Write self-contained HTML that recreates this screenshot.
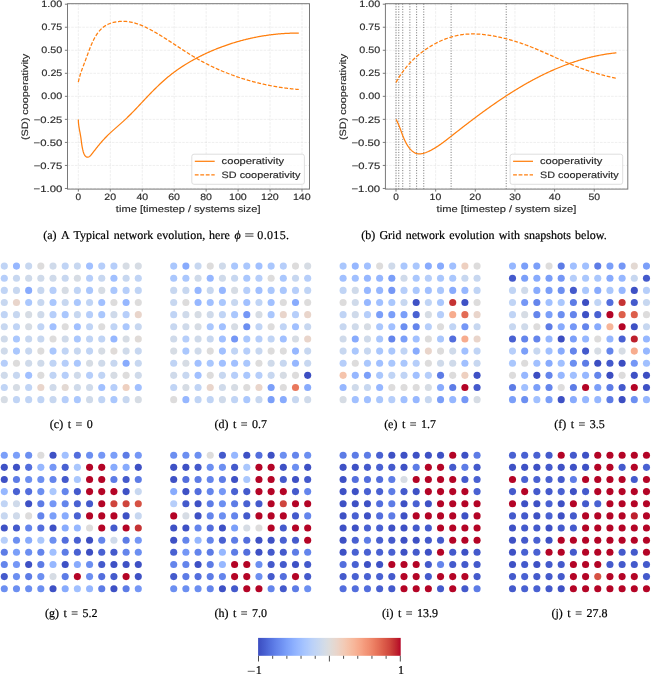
<!DOCTYPE html>
<html><head><meta charset="utf-8"><title>Figure</title>
<style>html,body{margin:0;padding:0;background:#fff;overflow:hidden;}svg{display:block;filter:blur(0.35px);}.t{stroke:#2a2a2a;stroke-width:0.16;}.c{stroke:#000;stroke-width:0.2;}</style>
</head><body>
<svg width="651" height="685" viewBox="0 0 651 685" text-rendering="geometricPrecision">
<rect width="651" height="685" fill="#fff"/>
<path d="M78.35 3.70 V189.10 M110.30 3.70 V189.10 M142.25 3.70 V189.10 M174.20 3.70 V189.10 M206.15 3.70 V189.10 M238.10 3.70 V189.10 M270.05 3.70 V189.10 M302.00 3.70 V189.10 M67.50 4.21 H309.50 M67.50 27.24 H309.50 M67.50 50.28 H309.50 M67.50 73.31 H309.50 M67.50 96.34 H309.50 M67.50 119.37 H309.50 M67.50 142.41 H309.50 M67.50 165.44 H309.50 M67.50 188.47 H309.50" stroke="#c8c8c8" stroke-opacity="0.36" stroke-width="0.8" stroke-dasharray="2.6 1.1" fill="none"/>
<path d="M78.35 119.50 L78.35 120.26 L78.37 121.02 L78.41 121.78 L78.45 122.53 L78.51 123.27 L78.59 124.01 L78.67 124.75 L78.76 125.48 L78.86 126.21 L78.97 126.94 L79.09 127.66 L79.21 128.38 L79.34 129.10 L79.47 129.82 L79.60 130.54 L79.73 131.25 L79.87 131.97 L80.01 132.68 L80.14 133.40 L80.27 134.11 L80.40 134.83 L80.53 135.55 L80.65 136.27 L80.76 136.99 L80.87 137.71 L80.97 138.44 L81.07 139.16 L81.17 139.89 L81.26 140.63 L81.36 141.36 L81.45 142.10 L81.55 142.84 L81.65 143.59 L81.76 144.33 L81.87 145.09 L81.99 145.84 L82.12 146.60 L82.26 147.37 L82.41 148.13 L82.57 148.90 L82.74 149.68 L82.93 150.46 L83.13 151.25 L83.35 152.04 L83.60 152.81 L83.87 153.57 L84.18 154.29 L84.53 154.95 L84.92 155.56 L85.37 156.09 L85.87 156.53 L86.39 156.88 L86.93 157.10 L87.48 157.20 L88.02 157.17 L88.55 157.02 L89.07 156.76 L89.59 156.40 L90.09 155.97 L90.60 155.47 L91.09 154.92 L91.58 154.32 L92.07 153.71 L92.56 153.08 L93.04 152.46 L93.51 151.84 L93.99 151.23 L94.46 150.62 L94.93 150.01 L95.40 149.41 L95.86 148.82 L96.33 148.23 L96.79 147.64 L97.26 147.06 L97.72 146.48 L98.18 145.91 L98.65 145.34 L99.11 144.78 L99.58 144.22 L100.04 143.66 L100.51 143.11 L100.98 142.56 L101.45 142.01 L101.92 141.47 L102.40 140.93 L102.88 140.39 L103.36 139.86 L103.84 139.33 L104.33 138.80 L104.83 138.27 L105.32 137.75 L105.83 137.23 L106.33 136.71 L106.85 136.19 L107.36 135.68 L107.89 135.16 L108.41 134.65 L108.95 134.14 L109.48 133.64 L110.02 133.13 L110.57 132.63 L111.11 132.12 L111.67 131.62 L112.22 131.12 L112.78 130.62 L113.33 130.12 L113.90 129.62 L114.46 129.12 L115.02 128.63 L115.59 128.13 L116.15 127.63 L116.72 127.14 L117.29 126.64 L117.85 126.14 L118.42 125.65 L118.99 125.15 L119.55 124.65 L120.12 124.15 L120.68 123.65 L121.24 123.15 L121.80 122.65 L122.36 122.15 L122.92 121.65 L123.47 121.15 L124.02 120.64 L124.56 120.14 L125.11 119.63 L125.65 119.12 L126.19 118.61 L126.72 118.10 L127.25 117.59 L127.78 117.07 L128.31 116.56 L128.84 116.04 L129.36 115.53 L129.88 115.01 L130.40 114.49 L130.92 113.97 L131.43 113.45 L131.94 112.93 L132.46 112.41 L132.97 111.88 L133.48 111.36 L133.98 110.84 L134.49 110.31 L135.00 109.78 L135.50 109.26 L136.00 108.73 L136.51 108.20 L137.01 107.67 L137.51 107.14 L138.01 106.61 L138.51 106.08 L139.01 105.55 L139.51 105.02 L140.01 104.49 L140.51 103.96 L141.01 103.42 L141.51 102.89 L142.01 102.36 L142.51 101.82 L143.01 101.29 L143.51 100.75 L144.02 100.22 L144.52 99.68 L145.02 99.15 L145.53 98.61 L146.03 98.08 L146.54 97.54 L147.05 97.01 L147.56 96.47 L148.07 95.94 L148.58 95.40 L149.09 94.87 L149.61 94.33 L150.13 93.80 L150.65 93.26 L151.17 92.73 L151.69 92.19 L152.21 91.66 L152.74 91.12 L153.27 90.59 L153.80 90.06 L154.33 89.53 L154.86 89.00 L155.40 88.47 L155.93 87.94 L156.47 87.42 L157.01 86.89 L157.56 86.37 L158.10 85.85 L158.64 85.33 L159.19 84.81 L159.74 84.29 L160.29 83.78 L160.84 83.27 L161.40 82.76 L161.95 82.25 L162.51 81.74 L163.07 81.24 L163.63 80.74 L164.19 80.24 L164.76 79.75 L165.33 79.26 L165.89 78.77 L166.46 78.28 L167.03 77.80 L167.61 77.32 L168.18 76.85 L168.76 76.37 L169.33 75.91 L169.91 75.44 L170.50 74.98 L171.08 74.52 L171.66 74.06 L172.25 73.61 L172.84 73.16 L173.43 72.72 L174.02 72.27 L174.61 71.84 L175.20 71.40 L175.80 70.97 L176.40 70.54 L177.00 70.11 L177.60 69.68 L178.20 69.26 L178.80 68.85 L179.41 68.43 L180.01 68.02 L180.62 67.61 L181.23 67.20 L181.84 66.80 L182.46 66.40 L183.07 66.00 L183.69 65.61 L184.31 65.21 L184.93 64.82 L185.55 64.44 L186.17 64.05 L186.79 63.67 L187.42 63.29 L188.05 62.92 L188.67 62.54 L189.31 62.17 L189.94 61.80 L190.57 61.44 L191.20 61.07 L191.84 60.71 L192.48 60.35 L193.12 60.00 L193.76 59.64 L194.40 59.29 L195.04 58.94 L195.69 58.59 L196.34 58.25 L196.98 57.90 L197.63 57.56 L198.28 57.23 L198.94 56.89 L199.59 56.56 L200.25 56.22 L200.90 55.89 L201.56 55.57 L202.22 55.24 L202.88 54.92 L203.54 54.60 L204.21 54.28 L204.87 53.96 L205.54 53.65 L206.21 53.34 L206.87 53.03 L207.54 52.72 L208.22 52.42 L208.89 52.12 L209.56 51.82 L210.24 51.52 L210.91 51.22 L211.59 50.93 L212.27 50.64 L212.95 50.35 L213.63 50.06 L214.31 49.78 L215.00 49.49 L215.68 49.22 L216.37 48.94 L217.05 48.66 L217.74 48.39 L218.43 48.12 L219.12 47.85 L219.81 47.59 L220.50 47.32 L221.19 47.06 L221.89 46.80 L222.58 46.54 L223.28 46.29 L223.98 46.04 L224.68 45.79 L225.37 45.54 L226.07 45.30 L226.78 45.05 L227.48 44.81 L228.18 44.58 L228.88 44.34 L229.59 44.11 L230.29 43.88 L231.00 43.65 L231.71 43.42 L232.41 43.20 L233.12 42.98 L233.83 42.76 L234.54 42.54 L235.26 42.33 L235.97 42.11 L236.68 41.90 L237.39 41.70 L238.11 41.49 L238.82 41.29 L239.54 41.09 L240.26 40.89 L240.97 40.70 L241.69 40.50 L242.41 40.31 L243.13 40.12 L243.85 39.94 L244.57 39.76 L245.29 39.58 L246.01 39.40 L246.73 39.22 L247.46 39.05 L248.18 38.88 L248.90 38.71 L249.63 38.54 L250.35 38.38 L251.08 38.22 L251.81 38.06 L252.53 37.90 L253.26 37.75 L253.99 37.60 L254.72 37.45 L255.44 37.30 L256.17 37.16 L256.90 37.01 L257.63 36.87 L258.36 36.74 L259.09 36.60 L259.82 36.47 L260.56 36.34 L261.29 36.21 L262.02 36.09 L262.75 35.97 L263.49 35.85 L264.22 35.73 L264.95 35.62 L265.69 35.51 L266.42 35.40 L267.15 35.29 L267.89 35.18 L268.62 35.08 L269.36 34.98 L270.09 34.89 L270.83 34.79 L271.56 34.70 L272.30 34.61 L273.04 34.52 L273.77 34.44 L274.51 34.36 L275.24 34.28 L275.98 34.20 L276.72 34.13 L277.45 34.06 L278.19 33.99 L278.93 33.92 L279.66 33.86 L280.40 33.80 L281.14 33.74 L281.87 33.68 L282.61 33.63 L283.35 33.58 L284.08 33.53 L284.82 33.48 L285.56 33.44 L286.29 33.40 L287.03 33.36 L287.77 33.32 L288.50 33.29 L289.24 33.26 L289.98 33.23 L290.71 33.21 L291.45 33.18 L292.19 33.16 L292.92 33.15 L293.66 33.13 L294.39 33.12 L295.13 33.11 L295.86 33.10 L296.60 33.10 L297.33 33.10 L298.07 33.10 L298.80 33.10" stroke="#ff7f0e" stroke-width="1.25" fill="none" stroke-linejoin="round"/>
<path d="M78.35 82.10 L78.47 81.46 L78.60 80.82 L78.74 80.19 L78.89 79.55 L79.04 78.91 L79.21 78.27 L79.38 77.63 L79.55 76.98 L79.74 76.34 L79.93 75.70 L80.12 75.05 L80.32 74.41 L80.53 73.76 L80.74 73.11 L80.96 72.47 L81.18 71.82 L81.40 71.17 L81.63 70.52 L81.86 69.87 L82.09 69.22 L82.33 68.57 L82.57 67.92 L82.81 67.27 L83.05 66.62 L83.30 65.97 L83.55 65.31 L83.79 64.66 L84.04 64.01 L84.29 63.36 L84.54 62.71 L84.78 62.05 L85.03 61.40 L85.28 60.75 L85.52 60.10 L85.77 59.45 L86.01 58.80 L86.25 58.14 L86.49 57.49 L86.73 56.84 L86.96 56.19 L87.20 55.54 L87.44 54.89 L87.68 54.24 L87.91 53.59 L88.15 52.95 L88.39 52.30 L88.63 51.65 L88.87 51.01 L89.12 50.36 L89.36 49.71 L89.61 49.07 L89.86 48.43 L90.11 47.78 L90.37 47.14 L90.63 46.50 L90.89 45.86 L91.16 45.22 L91.43 44.59 L91.70 43.95 L91.98 43.31 L92.26 42.68 L92.55 42.05 L92.84 41.43 L93.14 40.80 L93.44 40.18 L93.75 39.57 L94.07 38.96 L94.39 38.35 L94.72 37.75 L95.05 37.16 L95.40 36.57 L95.74 35.98 L96.10 35.41 L96.46 34.84 L96.84 34.28 L97.22 33.72 L97.60 33.18 L98.00 32.64 L98.41 32.11 L98.82 31.60 L99.24 31.09 L99.68 30.59 L100.12 30.10 L100.57 29.62 L101.03 29.16 L101.50 28.71 L101.99 28.26 L102.48 27.83 L102.99 27.42 L103.50 27.01 L104.03 26.62 L104.57 26.25 L105.12 25.88 L105.68 25.54 L106.26 25.20 L106.84 24.89 L107.44 24.58 L108.05 24.29 L108.67 24.02 L109.29 23.75 L109.93 23.51 L110.57 23.27 L111.22 23.05 L111.88 22.85 L112.54 22.65 L113.21 22.48 L113.88 22.31 L114.56 22.16 L115.25 22.02 L115.94 21.89 L116.63 21.78 L117.32 21.68 L118.02 21.59 L118.72 21.51 L119.42 21.45 L120.12 21.40 L120.82 21.36 L121.52 21.34 L122.22 21.32 L122.92 21.32 L123.62 21.33 L124.31 21.35 L125.00 21.39 L125.69 21.43 L126.38 21.49 L127.06 21.56 L127.74 21.64 L128.42 21.72 L129.10 21.82 L129.77 21.93 L130.44 22.05 L131.11 22.18 L131.78 22.32 L132.44 22.47 L133.10 22.62 L133.76 22.79 L134.42 22.96 L135.07 23.15 L135.72 23.34 L136.37 23.54 L137.02 23.74 L137.66 23.96 L138.31 24.18 L138.95 24.41 L139.59 24.65 L140.23 24.89 L140.86 25.14 L141.49 25.40 L142.12 25.66 L142.75 25.93 L143.38 26.20 L144.01 26.48 L144.63 26.76 L145.25 27.05 L145.87 27.35 L146.49 27.65 L147.11 27.95 L147.72 28.26 L148.34 28.57 L148.95 28.89 L149.56 29.21 L150.17 29.53 L150.78 29.85 L151.38 30.18 L151.99 30.51 L152.59 30.85 L153.19 31.19 L153.79 31.52 L154.39 31.86 L154.99 32.21 L155.59 32.55 L156.18 32.90 L156.78 33.25 L157.37 33.60 L157.96 33.95 L158.55 34.30 L159.14 34.65 L159.73 35.01 L160.32 35.37 L160.91 35.73 L161.49 36.09 L162.08 36.45 L162.66 36.81 L163.25 37.18 L163.83 37.54 L164.41 37.91 L164.99 38.27 L165.57 38.64 L166.15 39.01 L166.73 39.38 L167.31 39.75 L167.89 40.12 L168.47 40.49 L169.04 40.87 L169.62 41.24 L170.20 41.62 L170.77 41.99 L171.35 42.36 L171.92 42.74 L172.50 43.12 L173.07 43.49 L173.65 43.87 L174.22 44.24 L174.80 44.62 L175.37 45.00 L175.94 45.37 L176.52 45.75 L177.09 46.13 L177.67 46.50 L178.24 46.88 L178.81 47.26 L179.39 47.63 L179.96 48.01 L180.53 48.38 L181.11 48.76 L181.68 49.13 L182.26 49.51 L182.83 49.88 L183.41 50.25 L183.98 50.62 L184.56 50.99 L185.14 51.36 L185.71 51.73 L186.29 52.10 L186.87 52.47 L187.45 52.84 L188.02 53.20 L188.60 53.57 L189.18 53.93 L189.77 54.29 L190.35 54.65 L190.93 55.01 L191.51 55.37 L192.09 55.73 L192.68 56.08 L193.26 56.43 L193.85 56.79 L194.44 57.14 L195.03 57.48 L195.61 57.83 L196.20 58.18 L196.80 58.52 L197.39 58.86 L197.98 59.20 L198.57 59.54 L199.17 59.87 L199.77 60.21 L200.36 60.54 L200.96 60.87 L201.56 61.20 L202.16 61.52 L202.76 61.85 L203.36 62.17 L203.97 62.49 L204.57 62.81 L205.18 63.13 L205.78 63.44 L206.39 63.75 L207.00 64.07 L207.61 64.38 L208.22 64.68 L208.83 64.99 L209.44 65.29 L210.05 65.59 L210.67 65.89 L211.28 66.19 L211.90 66.49 L212.51 66.78 L213.13 67.08 L213.75 67.37 L214.37 67.66 L214.99 67.94 L215.61 68.23 L216.23 68.51 L216.85 68.79 L217.48 69.07 L218.10 69.35 L218.73 69.63 L219.35 69.90 L219.98 70.17 L220.61 70.44 L221.24 70.71 L221.87 70.98 L222.50 71.24 L223.13 71.51 L223.76 71.77 L224.39 72.03 L225.02 72.28 L225.66 72.54 L226.29 72.79 L226.93 73.04 L227.57 73.29 L228.20 73.54 L228.84 73.79 L229.48 74.03 L230.12 74.27 L230.76 74.52 L231.40 74.75 L232.04 74.99 L232.68 75.23 L233.33 75.46 L233.97 75.69 L234.61 75.92 L235.26 76.15 L235.90 76.37 L236.55 76.60 L237.20 76.82 L237.85 77.04 L238.49 77.26 L239.14 77.48 L239.79 77.69 L240.44 77.91 L241.09 78.12 L241.75 78.33 L242.40 78.53 L243.05 78.74 L243.71 78.94 L244.36 79.15 L245.01 79.35 L245.67 79.54 L246.32 79.74 L246.98 79.94 L247.64 80.13 L248.30 80.32 L248.95 80.51 L249.61 80.70 L250.27 80.88 L250.93 81.07 L251.59 81.25 L252.25 81.43 L252.91 81.61 L253.58 81.78 L254.24 81.96 L254.90 82.13 L255.57 82.30 L256.23 82.47 L256.89 82.64 L257.56 82.80 L258.22 82.97 L258.89 83.13 L259.56 83.29 L260.22 83.45 L260.89 83.61 L261.56 83.76 L262.23 83.91 L262.90 84.06 L263.56 84.21 L264.23 84.36 L264.90 84.51 L265.57 84.65 L266.24 84.79 L266.92 84.93 L267.59 85.07 L268.26 85.21 L268.93 85.34 L269.60 85.48 L270.28 85.61 L270.95 85.74 L271.62 85.86 L272.30 85.99 L272.97 86.11 L273.65 86.24 L274.32 86.36 L275.00 86.48 L275.67 86.59 L276.35 86.71 L277.03 86.82 L277.70 86.93 L278.38 87.04 L279.06 87.15 L279.74 87.26 L280.41 87.36 L281.09 87.46 L281.77 87.56 L282.45 87.66 L283.13 87.76 L283.81 87.85 L284.49 87.95 L285.17 88.04 L285.85 88.13 L286.53 88.22 L287.21 88.30 L287.89 88.39 L288.57 88.47 L289.25 88.55 L289.93 88.63 L290.61 88.71 L291.29 88.78 L291.97 88.86 L292.66 88.93 L293.34 89.00 L294.02 89.07 L294.70 89.14 L295.39 89.20 L296.07 89.26 L296.75 89.32 L297.43 89.38 L298.12 89.44 L298.80 89.50" stroke="#ff7f0e" stroke-width="1.25" fill="none" stroke-dasharray="3.8 1.7"/>
<rect x="191.80" y="154.2" width="112.6" height="30.1" rx="2.2" fill="#fff" fill-opacity="0.8" stroke="#d6d6d6" stroke-width="0.8"/>
<path d="M194.80 161.3 h19.9" stroke="#ff7f0e" stroke-width="1.25"/>
<path d="M194.80 174.9 h19.9" stroke="#ff7f0e" stroke-width="1.25" stroke-dasharray="3.8 1.7"/>
<text x="221.63" y="164.40" font-size="9.20" font-family="Liberation Sans" class="t" fill="#2a2a2a" textLength="62.50" lengthAdjust="spacingAndGlyphs">cooperativity</text>
<text x="221.61" y="178.00" font-size="9.20" font-family="Liberation Sans" class="t" fill="#2a2a2a" textLength="78.88" lengthAdjust="spacingAndGlyphs">SD cooperativity</text>
<rect x="67.50" y="3.70" width="242.00" height="185.40" fill="none" stroke="#737373" stroke-width="0.95"/>
<text x="75.55" y="200.15" font-size="9.20" font-family="Liberation Sans" class="t" fill="#2a2a2a" textLength="5.61" lengthAdjust="spacingAndGlyphs">0</text>
<text x="104.35" y="200.15" font-size="9.20" font-family="Liberation Sans" class="t" fill="#2a2a2a" textLength="11.78" lengthAdjust="spacingAndGlyphs">20</text>
<text x="136.48" y="200.15" font-size="9.20" font-family="Liberation Sans" class="t" fill="#2a2a2a" textLength="11.72" lengthAdjust="spacingAndGlyphs">40</text>
<text x="168.23" y="200.15" font-size="9.20" font-family="Liberation Sans" class="t" fill="#2a2a2a" textLength="11.82" lengthAdjust="spacingAndGlyphs">60</text>
<text x="200.25" y="200.15" font-size="9.20" font-family="Liberation Sans" class="t" fill="#2a2a2a" textLength="11.75" lengthAdjust="spacingAndGlyphs">80</text>
<text x="229.01" y="200.15" font-size="9.20" font-family="Liberation Sans" class="t" fill="#2a2a2a" textLength="17.79" lengthAdjust="spacingAndGlyphs">100</text>
<text x="260.96" y="200.15" font-size="9.20" font-family="Liberation Sans" class="t" fill="#2a2a2a" textLength="17.79" lengthAdjust="spacingAndGlyphs">120</text>
<text x="292.91" y="200.15" font-size="9.20" font-family="Liberation Sans" class="t" fill="#2a2a2a" textLength="17.79" lengthAdjust="spacingAndGlyphs">140</text>
<text x="41.38" y="7.36" font-size="9.20" font-family="Liberation Sans" class="t" fill="#2a2a2a" textLength="20.84" lengthAdjust="spacingAndGlyphs">1.00</text>
<text x="41.56" y="30.39" font-size="9.20" font-family="Liberation Sans" class="t" fill="#2a2a2a" textLength="20.68" lengthAdjust="spacingAndGlyphs">0.75</text>
<text x="41.36" y="53.43" font-size="9.20" font-family="Liberation Sans" class="t" fill="#2a2a2a" textLength="20.86" lengthAdjust="spacingAndGlyphs">0.50</text>
<text x="41.56" y="76.46" font-size="9.20" font-family="Liberation Sans" class="t" fill="#2a2a2a" textLength="20.68" lengthAdjust="spacingAndGlyphs">0.25</text>
<text x="41.36" y="99.49" font-size="9.20" font-family="Liberation Sans" class="t" fill="#2a2a2a" textLength="20.86" lengthAdjust="spacingAndGlyphs">0.00</text>
<text x="33.80" y="122.52" font-size="9.20" font-family="Liberation Sans" class="t" fill="#2a2a2a" textLength="28.48" lengthAdjust="spacingAndGlyphs">−0.25</text>
<text x="33.59" y="145.56" font-size="9.20" font-family="Liberation Sans" class="t" fill="#2a2a2a" textLength="28.65" lengthAdjust="spacingAndGlyphs">−0.50</text>
<text x="33.80" y="168.59" font-size="9.20" font-family="Liberation Sans" class="t" fill="#2a2a2a" textLength="28.48" lengthAdjust="spacingAndGlyphs">−0.75</text>
<text x="33.59" y="191.62" font-size="9.20" font-family="Liberation Sans" class="t" fill="#2a2a2a" textLength="28.65" lengthAdjust="spacingAndGlyphs">−1.00</text>
<path d="M78.35 189.10 v2.5 M110.30 189.10 v2.5 M142.25 189.10 v2.5 M174.20 189.10 v2.5 M206.15 189.10 v2.5 M238.10 189.10 v2.5 M270.05 189.10 v2.5 M302.00 189.10 v2.5 M67.50 4.21 h-2.6 M67.50 27.24 h-2.6 M67.50 50.28 h-2.6 M67.50 73.31 h-2.6 M67.50 96.34 h-2.6 M67.50 119.37 h-2.6 M67.50 142.41 h-2.6 M67.50 165.44 h-2.6 M67.50 188.47 h-2.6" stroke="#737373" stroke-width="0.95" fill="none"/>
<text x="115.88" y="212.30" font-size="9.20" font-family="Liberation Sans" class="t" fill="#2a2a2a" textLength="144.67" lengthAdjust="spacingAndGlyphs">time [timestep / systems size]</text>
<text x="0" y="0" font-size="9.20" font-family="Liberation Sans" class="t" fill="#2a2a2a" textLength="86.33" lengthAdjust="spacingAndGlyphs" transform="translate(27.80 140.04) rotate(-90)">(SD) cooperativity</text>
<path d="M396.00 3.70 V189.10 M435.65 3.70 V189.10 M475.30 3.70 V189.10 M514.95 3.70 V189.10 M554.60 3.70 V189.10 M594.25 3.70 V189.10 M385.40 4.21 H627.80 M385.40 27.24 H627.80 M385.40 50.28 H627.80 M385.40 73.31 H627.80 M385.40 96.34 H627.80 M385.40 119.37 H627.80 M385.40 142.41 H627.80 M385.40 165.44 H627.80 M385.40 188.47 H627.80" stroke="#c8c8c8" stroke-opacity="0.36" stroke-width="0.8" stroke-dasharray="2.6 1.1" fill="none"/>
<path d="M396.00 3.70 V189.10 M398.78 3.70 V189.10 M402.74 3.70 V189.10 M409.88 3.70 V189.10 M416.62 3.70 V189.10 M423.75 3.70 V189.10 M451.11 3.70 V189.10 M506.23 3.70 V189.10" stroke="#5c5c5c" stroke-width="0.85" stroke-dasharray="1 1.6" fill="none"/>
<path d="M396.00 119.40 L396.34 119.99 L396.66 120.58 L396.98 121.17 L397.29 121.77 L397.58 122.37 L397.87 122.97 L398.14 123.58 L398.41 124.18 L398.67 124.79 L398.93 125.41 L399.18 126.02 L399.42 126.63 L399.66 127.25 L399.90 127.87 L400.13 128.49 L400.36 129.12 L400.59 129.74 L400.82 130.37 L401.05 131.00 L401.27 131.63 L401.50 132.26 L401.73 132.89 L401.96 133.52 L402.20 134.16 L402.43 134.80 L402.68 135.43 L402.92 136.07 L403.18 136.71 L403.43 137.35 L403.70 137.99 L403.97 138.63 L404.25 139.27 L404.54 139.91 L404.84 140.56 L405.15 141.20 L405.47 141.84 L405.80 142.48 L406.14 143.11 L406.49 143.74 L406.85 144.36 L407.22 144.97 L407.60 145.57 L407.98 146.16 L408.38 146.74 L408.79 147.31 L409.21 147.86 L409.63 148.40 L410.07 148.92 L410.52 149.42 L410.97 149.90 L411.44 150.36 L411.91 150.79 L412.40 151.21 L412.90 151.59 L413.40 151.96 L413.92 152.29 L414.44 152.60 L414.98 152.87 L415.52 153.12 L416.07 153.33 L416.64 153.51 L417.21 153.65 L417.79 153.76 L418.39 153.83 L418.99 153.87 L419.59 153.88 L420.21 153.86 L420.83 153.81 L421.45 153.74 L422.09 153.63 L422.72 153.50 L423.36 153.35 L424.00 153.18 L424.65 152.99 L425.29 152.77 L425.94 152.54 L426.59 152.29 L427.23 152.03 L427.88 151.75 L428.52 151.46 L429.16 151.15 L429.80 150.84 L430.44 150.52 L431.07 150.19 L431.70 149.85 L432.32 149.51 L432.93 149.17 L433.54 148.82 L434.14 148.47 L434.74 148.11 L435.33 147.75 L435.92 147.39 L436.50 147.02 L437.08 146.65 L437.66 146.28 L438.23 145.90 L438.79 145.52 L439.35 145.14 L439.91 144.76 L440.46 144.37 L441.01 143.99 L441.56 143.59 L442.11 143.20 L442.65 142.81 L443.19 142.41 L443.72 142.01 L444.26 141.61 L444.79 141.21 L445.32 140.81 L445.85 140.40 L446.37 140.00 L446.90 139.59 L447.42 139.18 L447.95 138.77 L448.47 138.37 L448.99 137.96 L449.52 137.54 L450.04 137.13 L450.56 136.72 L451.08 136.31 L451.60 135.90 L452.12 135.49 L452.65 135.08 L453.17 134.67 L453.69 134.25 L454.22 133.84 L454.74 133.43 L455.27 133.02 L455.79 132.61 L456.32 132.20 L456.84 131.78 L457.37 131.37 L457.90 130.96 L458.42 130.55 L458.95 130.14 L459.48 129.73 L460.01 129.32 L460.53 128.91 L461.06 128.50 L461.59 128.08 L462.12 127.67 L462.65 127.26 L463.18 126.85 L463.71 126.44 L464.24 126.03 L464.78 125.62 L465.31 125.21 L465.84 124.80 L466.37 124.40 L466.91 123.99 L467.44 123.58 L467.97 123.17 L468.51 122.76 L469.04 122.35 L469.58 121.95 L470.12 121.54 L470.65 121.13 L471.19 120.72 L471.73 120.32 L472.26 119.91 L472.80 119.50 L473.34 119.10 L473.88 118.69 L474.42 118.29 L474.96 117.88 L475.50 117.48 L476.04 117.08 L476.58 116.67 L477.12 116.27 L477.66 115.87 L478.20 115.46 L478.75 115.06 L479.29 114.66 L479.83 114.26 L480.38 113.86 L480.92 113.46 L481.47 113.06 L482.01 112.66 L482.56 112.26 L483.10 111.86 L483.65 111.47 L484.20 111.07 L484.75 110.67 L485.29 110.28 L485.84 109.88 L486.39 109.48 L486.94 109.09 L487.49 108.70 L488.04 108.30 L488.59 107.91 L489.15 107.52 L489.70 107.13 L490.25 106.74 L490.80 106.34 L491.36 105.95 L491.91 105.57 L492.46 105.18 L493.02 104.79 L493.57 104.40 L494.13 104.02 L494.69 103.63 L495.24 103.24 L495.80 102.86 L496.36 102.48 L496.92 102.09 L497.48 101.71 L498.03 101.33 L498.59 100.95 L499.15 100.57 L499.72 100.19 L500.28 99.81 L500.84 99.43 L501.40 99.06 L501.96 98.68 L502.53 98.31 L503.09 97.93 L503.65 97.56 L504.22 97.18 L504.78 96.81 L505.35 96.44 L505.92 96.07 L506.48 95.70 L507.05 95.33 L507.62 94.97 L508.19 94.60 L508.76 94.23 L509.33 93.87 L509.90 93.51 L510.47 93.14 L511.04 92.78 L511.61 92.42 L512.18 92.06 L512.75 91.70 L513.33 91.34 L513.90 90.99 L514.48 90.63 L515.05 90.27 L515.63 89.92 L516.20 89.57 L516.78 89.21 L517.35 88.86 L517.93 88.51 L518.51 88.17 L519.09 87.82 L519.67 87.47 L520.25 87.13 L520.83 86.78 L521.41 86.44 L521.99 86.10 L522.57 85.75 L523.16 85.41 L523.74 85.08 L524.32 84.74 L524.91 84.40 L525.49 84.07 L526.08 83.73 L526.66 83.40 L527.25 83.07 L527.84 82.74 L528.42 82.41 L529.01 82.08 L529.60 81.75 L530.19 81.43 L530.78 81.10 L531.37 80.78 L531.96 80.46 L532.55 80.14 L533.15 79.82 L533.74 79.50 L534.33 79.19 L534.93 78.87 L535.52 78.56 L536.12 78.25 L536.71 77.93 L537.31 77.62 L537.91 77.32 L538.50 77.01 L539.10 76.70 L539.70 76.40 L540.30 76.10 L540.90 75.80 L541.50 75.50 L542.10 75.20 L542.71 74.90 L543.31 74.61 L543.91 74.31 L544.52 74.02 L545.12 73.73 L545.72 73.44 L546.33 73.15 L546.94 72.86 L547.54 72.58 L548.15 72.29 L548.76 72.01 L549.37 71.73 L549.98 71.45 L550.59 71.18 L551.20 70.90 L551.81 70.63 L552.42 70.35 L553.03 70.08 L553.65 69.81 L554.26 69.55 L554.88 69.28 L555.49 69.02 L556.11 68.75 L556.72 68.49 L557.34 68.23 L557.96 67.97 L558.58 67.72 L559.20 67.46 L559.82 67.21 L560.44 66.96 L561.06 66.71 L561.68 66.46 L562.30 66.22 L562.92 65.97 L563.55 65.73 L564.17 65.49 L564.80 65.25 L565.42 65.02 L566.05 64.78 L566.68 64.55 L567.30 64.32 L567.93 64.09 L568.56 63.86 L569.19 63.63 L569.82 63.41 L570.45 63.19 L571.08 62.96 L571.72 62.75 L572.35 62.53 L572.98 62.32 L573.62 62.10 L574.25 61.89 L574.89 61.68 L575.52 61.48 L576.16 61.27 L576.80 61.07 L577.44 60.87 L578.08 60.67 L578.72 60.47 L579.36 60.27 L580.00 60.08 L580.64 59.89 L581.29 59.70 L581.93 59.51 L582.57 59.33 L583.22 59.14 L583.86 58.96 L584.51 58.78 L585.16 58.61 L585.80 58.43 L586.45 58.26 L587.10 58.09 L587.75 57.92 L588.40 57.75 L589.05 57.59 L589.71 57.43 L590.36 57.27 L591.01 57.11 L591.67 56.95 L592.32 56.80 L592.98 56.65 L593.63 56.50 L594.29 56.35 L594.95 56.21 L595.61 56.07 L596.27 55.93 L596.93 55.79 L597.59 55.65 L598.25 55.52 L598.91 55.39 L599.58 55.26 L600.24 55.13 L600.90 55.01 L601.57 54.89 L602.24 54.77 L602.90 54.65 L603.57 54.53 L604.24 54.42 L604.91 54.31 L605.58 54.20 L606.25 54.10 L606.92 53.99 L607.59 53.89 L608.27 53.79 L608.94 53.70 L609.61 53.60 L610.29 53.51 L610.97 53.42 L611.64 53.34 L612.32 53.25 L613.00 53.17 L613.68 53.09 L614.36 53.02 L615.04 52.94 L615.72 52.87 L616.40 52.80" stroke="#ff7f0e" stroke-width="1.25" fill="none" stroke-linejoin="round"/>
<path d="M395.99 82.50 L396.29 81.95 L396.58 81.41 L396.88 80.87 L397.18 80.33 L397.49 79.79 L397.80 79.26 L398.11 78.72 L398.43 78.19 L398.75 77.66 L399.08 77.14 L399.41 76.61 L399.74 76.09 L400.07 75.57 L400.41 75.06 L400.76 74.54 L401.10 74.03 L401.45 73.52 L401.81 73.01 L402.16 72.51 L402.53 72.01 L402.89 71.51 L403.26 71.01 L403.63 70.51 L404.00 70.02 L404.38 69.53 L404.76 69.04 L405.15 68.56 L405.53 68.07 L405.92 67.59 L406.32 67.12 L406.72 66.64 L407.12 66.17 L407.52 65.70 L407.93 65.23 L408.34 64.77 L408.75 64.31 L409.16 63.85 L409.58 63.39 L410.01 62.94 L410.43 62.49 L410.86 62.04 L411.29 61.59 L411.72 61.15 L412.16 60.71 L412.60 60.27 L413.04 59.84 L413.49 59.41 L413.93 58.98 L414.39 58.55 L414.84 58.13 L415.30 57.71 L415.75 57.29 L416.22 56.88 L416.68 56.47 L417.15 56.06 L417.62 55.66 L418.09 55.25 L418.56 54.86 L419.04 54.46 L419.52 54.07 L420.00 53.68 L420.49 53.29 L420.98 52.91 L421.47 52.53 L421.96 52.15 L422.45 51.77 L422.95 51.40 L423.45 51.03 L423.95 50.67 L424.45 50.31 L424.96 49.95 L425.47 49.59 L425.98 49.24 L426.49 48.89 L427.01 48.55 L427.52 48.21 L428.04 47.87 L428.56 47.53 L429.09 47.20 L429.61 46.87 L430.14 46.55 L430.67 46.22 L431.20 45.91 L431.73 45.59 L432.27 45.28 L432.81 44.97 L433.34 44.67 L433.89 44.36 L434.43 44.07 L434.97 43.77 L435.52 43.48 L436.07 43.20 L436.62 42.91 L437.17 42.63 L437.72 42.36 L438.28 42.09 L438.83 41.82 L439.39 41.55 L439.95 41.29 L440.51 41.04 L441.08 40.78 L441.64 40.54 L442.21 40.29 L442.78 40.05 L443.34 39.82 L443.91 39.58 L444.49 39.36 L445.06 39.13 L445.63 38.91 L446.21 38.70 L446.79 38.49 L447.37 38.28 L447.95 38.08 L448.53 37.88 L449.11 37.69 L449.69 37.50 L450.28 37.32 L450.87 37.14 L451.45 36.96 L452.04 36.79 L452.63 36.63 L453.22 36.47 L453.81 36.31 L454.40 36.16 L455.00 36.01 L455.59 35.87 L456.19 35.74 L456.78 35.60 L457.38 35.48 L457.98 35.36 L458.58 35.24 L459.18 35.13 L459.78 35.02 L460.38 34.92 L460.98 34.82 L461.59 34.73 L462.19 34.64 L462.79 34.56 L463.40 34.49 L464.00 34.42 L464.61 34.35 L465.22 34.29 L465.82 34.24 L466.43 34.19 L467.04 34.14 L467.65 34.10 L468.26 34.06 L468.87 34.03 L469.48 34.01 L470.09 33.98 L470.70 33.97 L471.31 33.95 L471.93 33.95 L472.54 33.94 L473.15 33.94 L473.76 33.95 L474.38 33.95 L474.99 33.97 L475.60 33.98 L476.22 34.00 L476.83 34.03 L477.45 34.06 L478.06 34.09 L478.67 34.13 L479.29 34.17 L479.90 34.21 L480.52 34.26 L481.13 34.31 L481.75 34.36 L482.36 34.42 L482.97 34.48 L483.59 34.55 L484.20 34.61 L484.82 34.68 L485.43 34.76 L486.04 34.84 L486.66 34.92 L487.27 35.00 L487.88 35.08 L488.49 35.17 L489.11 35.27 L489.72 35.36 L490.33 35.46 L490.94 35.56 L491.55 35.66 L492.16 35.76 L492.77 35.87 L493.38 35.98 L493.99 36.09 L494.60 36.21 L495.20 36.32 L495.81 36.44 L496.42 36.56 L497.02 36.69 L497.63 36.81 L498.23 36.94 L498.84 37.07 L499.44 37.20 L500.04 37.33 L500.64 37.46 L501.25 37.60 L501.85 37.74 L502.45 37.88 L503.05 38.02 L503.65 38.16 L504.24 38.31 L504.84 38.46 L505.44 38.61 L506.03 38.76 L506.63 38.91 L507.23 39.07 L507.82 39.23 L508.42 39.38 L509.01 39.55 L509.60 39.71 L510.20 39.87 L510.79 40.04 L511.38 40.21 L511.97 40.38 L512.56 40.55 L513.15 40.72 L513.74 40.90 L514.33 41.08 L514.92 41.26 L515.51 41.44 L516.09 41.62 L516.68 41.81 L517.27 41.99 L517.86 42.18 L518.44 42.37 L519.03 42.56 L519.61 42.76 L520.20 42.95 L520.78 43.15 L521.36 43.35 L521.95 43.55 L522.53 43.75 L523.11 43.96 L523.70 44.17 L524.28 44.37 L524.86 44.58 L525.44 44.80 L526.02 45.01 L526.60 45.22 L527.18 45.44 L527.76 45.66 L528.34 45.88 L528.92 46.10 L529.50 46.33 L530.08 46.55 L530.66 46.78 L531.23 47.01 L531.81 47.24 L532.39 47.47 L532.97 47.70 L533.54 47.93 L534.12 48.17 L534.69 48.41 L535.27 48.65 L535.85 48.88 L536.42 49.12 L537.00 49.37 L537.57 49.61 L538.15 49.85 L538.72 50.10 L539.30 50.34 L539.87 50.59 L540.44 50.84 L541.02 51.09 L541.59 51.33 L542.16 51.58 L542.74 51.84 L543.31 52.09 L543.88 52.34 L544.46 52.59 L545.03 52.84 L545.60 53.10 L546.17 53.35 L546.75 53.61 L547.32 53.86 L547.89 54.12 L548.46 54.37 L549.03 54.63 L549.61 54.88 L550.18 55.14 L550.75 55.40 L551.32 55.65 L551.89 55.91 L552.46 56.17 L553.03 56.42 L553.60 56.68 L554.18 56.94 L554.75 57.19 L555.32 57.45 L555.89 57.70 L556.46 57.96 L557.03 58.22 L557.60 58.47 L558.17 58.73 L558.74 58.98 L559.32 59.23 L559.89 59.49 L560.46 59.74 L561.03 59.99 L561.60 60.24 L562.17 60.50 L562.74 60.75 L563.31 61.00 L563.89 61.24 L564.46 61.49 L565.03 61.74 L565.60 61.99 L566.17 62.23 L566.74 62.48 L567.32 62.72 L567.89 62.97 L568.46 63.21 L569.03 63.45 L569.60 63.69 L570.18 63.93 L570.75 64.17 L571.32 64.41 L571.90 64.64 L572.47 64.88 L573.04 65.11 L573.62 65.35 L574.19 65.58 L574.76 65.81 L575.34 66.04 L575.91 66.27 L576.49 66.50 L577.06 66.72 L577.64 66.95 L578.21 67.17 L578.79 67.39 L579.36 67.61 L579.94 67.83 L580.51 68.05 L581.09 68.26 L581.67 68.48 L582.24 68.69 L582.82 68.90 L583.40 69.11 L583.98 69.32 L584.55 69.53 L585.13 69.73 L585.71 69.94 L586.29 70.14 L586.87 70.34 L587.45 70.53 L588.03 70.73 L588.61 70.93 L589.19 71.12 L589.77 71.31 L590.35 71.50 L590.94 71.68 L591.52 71.87 L592.10 72.05 L592.68 72.23 L593.27 72.41 L593.85 72.59 L594.43 72.77 L595.02 72.94 L595.60 73.11 L596.19 73.28 L596.78 73.45 L597.36 73.62 L597.95 73.79 L598.54 73.95 L599.12 74.11 L599.71 74.28 L600.30 74.44 L600.89 74.60 L601.48 74.75 L602.07 74.91 L602.66 75.07 L603.25 75.22 L603.84 75.37 L604.43 75.52 L605.03 75.68 L605.62 75.83 L606.21 75.97 L606.81 76.12 L607.40 76.27 L608.00 76.42 L608.59 76.56 L609.19 76.71 L609.79 76.85 L610.39 76.99 L610.98 77.14 L611.58 77.28 L612.18 77.42 L612.78 77.56 L613.38 77.70 L613.98 77.84 L614.59 77.98 L615.19 78.12 L615.79 78.26 L616.40 78.40" stroke="#ff7f0e" stroke-width="1.25" fill="none" stroke-dasharray="3.8 1.7"/>
<rect x="510.10" y="154.2" width="112.6" height="30.1" rx="2.2" fill="#fff" fill-opacity="0.8" stroke="#d6d6d6" stroke-width="0.8"/>
<path d="M513.10 161.3 h19.9" stroke="#ff7f0e" stroke-width="1.25"/>
<path d="M513.10 174.9 h19.9" stroke="#ff7f0e" stroke-width="1.25" stroke-dasharray="3.8 1.7"/>
<text x="539.93" y="164.40" font-size="9.20" font-family="Liberation Sans" class="t" fill="#2a2a2a" textLength="62.50" lengthAdjust="spacingAndGlyphs">cooperativity</text>
<text x="539.91" y="178.00" font-size="9.20" font-family="Liberation Sans" class="t" fill="#2a2a2a" textLength="78.88" lengthAdjust="spacingAndGlyphs">SD cooperativity</text>
<rect x="385.40" y="3.70" width="242.40" height="185.40" fill="none" stroke="#737373" stroke-width="0.95"/>
<text x="393.20" y="200.15" font-size="9.20" font-family="Liberation Sans" class="t" fill="#2a2a2a" textLength="5.61" lengthAdjust="spacingAndGlyphs">0</text>
<text x="429.61" y="200.15" font-size="9.20" font-family="Liberation Sans" class="t" fill="#2a2a2a" textLength="11.69" lengthAdjust="spacingAndGlyphs">10</text>
<text x="469.35" y="200.15" font-size="9.20" font-family="Liberation Sans" class="t" fill="#2a2a2a" textLength="11.78" lengthAdjust="spacingAndGlyphs">20</text>
<text x="509.15" y="200.15" font-size="9.20" font-family="Liberation Sans" class="t" fill="#2a2a2a" textLength="11.61" lengthAdjust="spacingAndGlyphs">30</text>
<text x="548.83" y="200.15" font-size="9.20" font-family="Liberation Sans" class="t" fill="#2a2a2a" textLength="11.72" lengthAdjust="spacingAndGlyphs">40</text>
<text x="588.44" y="200.15" font-size="9.20" font-family="Liberation Sans" class="t" fill="#2a2a2a" textLength="11.62" lengthAdjust="spacingAndGlyphs">50</text>
<text x="359.28" y="7.36" font-size="9.20" font-family="Liberation Sans" class="t" fill="#2a2a2a" textLength="20.84" lengthAdjust="spacingAndGlyphs">1.00</text>
<text x="359.46" y="30.39" font-size="9.20" font-family="Liberation Sans" class="t" fill="#2a2a2a" textLength="20.68" lengthAdjust="spacingAndGlyphs">0.75</text>
<text x="359.26" y="53.43" font-size="9.20" font-family="Liberation Sans" class="t" fill="#2a2a2a" textLength="20.86" lengthAdjust="spacingAndGlyphs">0.50</text>
<text x="359.46" y="76.46" font-size="9.20" font-family="Liberation Sans" class="t" fill="#2a2a2a" textLength="20.68" lengthAdjust="spacingAndGlyphs">0.25</text>
<text x="359.26" y="99.49" font-size="9.20" font-family="Liberation Sans" class="t" fill="#2a2a2a" textLength="20.86" lengthAdjust="spacingAndGlyphs">0.00</text>
<text x="351.70" y="122.52" font-size="9.20" font-family="Liberation Sans" class="t" fill="#2a2a2a" textLength="28.48" lengthAdjust="spacingAndGlyphs">−0.25</text>
<text x="351.49" y="145.56" font-size="9.20" font-family="Liberation Sans" class="t" fill="#2a2a2a" textLength="28.65" lengthAdjust="spacingAndGlyphs">−0.50</text>
<text x="351.70" y="168.59" font-size="9.20" font-family="Liberation Sans" class="t" fill="#2a2a2a" textLength="28.48" lengthAdjust="spacingAndGlyphs">−0.75</text>
<text x="351.49" y="191.62" font-size="9.20" font-family="Liberation Sans" class="t" fill="#2a2a2a" textLength="28.65" lengthAdjust="spacingAndGlyphs">−1.00</text>
<path d="M396.00 189.10 v2.5 M435.65 189.10 v2.5 M475.30 189.10 v2.5 M514.95 189.10 v2.5 M554.60 189.10 v2.5 M594.25 189.10 v2.5 M385.40 4.21 h-2.6 M385.40 27.24 h-2.6 M385.40 50.28 h-2.6 M385.40 73.31 h-2.6 M385.40 96.34 h-2.6 M385.40 119.37 h-2.6 M385.40 142.41 h-2.6 M385.40 165.44 h-2.6 M385.40 188.47 h-2.6" stroke="#737373" stroke-width="0.95" fill="none"/>
<text x="436.62" y="212.30" font-size="9.20" font-family="Liberation Sans" class="t" fill="#2a2a2a" textLength="139.69" lengthAdjust="spacingAndGlyphs">time [timestep / system size]</text>
<text x="0" y="0" font-size="9.20" font-family="Liberation Sans" class="t" fill="#2a2a2a" textLength="86.33" lengthAdjust="spacingAndGlyphs" transform="translate(345.70 140.04) rotate(-90)">(SD) cooperativity</text>
<text y="238.5" font-size="12" font-family="Liberation Serif" class="c" fill="#000"><tspan x="43.27">(a)</tspan><tspan x="61.08">A</tspan><tspan x="73.48">Typical</tspan><tspan x="113.82">network</tspan><tspan x="156.83">evolution,</tspan><tspan x="209.08">here</tspan></text>
<text x="234.50" y="238.5" font-size="12" font-family="Liberation Serif" class="c" font-style="italic" fill="#000">ϕ</text>
<text x="244.5" y="238.5" font-size="12" font-family="Liberation Serif" class="c" fill="#000" textLength="9.6" lengthAdjust="spacingAndGlyphs">=</text>
<text x="257.3" y="238.5" font-size="12" font-family="Liberation Serif" class="c" fill="#000" letter-spacing="0.35">0.015.</text>
<text x="361.27" y="238.50" font-size="12" font-family="Liberation Serif" class="c" fill="#000" word-spacing="1.20" text-anchor="start">(b) Grid network evolution with snapshots below.</text>
<circle cx="4.30" cy="266.10" r="3.55" fill="#c0d4f5"/>
<circle cx="16.48" cy="266.10" r="3.55" fill="#96b7ff"/>
<circle cx="28.66" cy="266.10" r="3.55" fill="#c7d7f0"/>
<circle cx="40.84" cy="266.10" r="3.55" fill="#dddcdc"/>
<circle cx="53.02" cy="266.10" r="3.55" fill="#cfdaea"/>
<circle cx="65.20" cy="266.10" r="3.55" fill="#c0d4f5"/>
<circle cx="77.38" cy="266.10" r="3.55" fill="#c7d7f0"/>
<circle cx="89.56" cy="266.10" r="3.55" fill="#a1c0ff"/>
<circle cx="101.74" cy="266.10" r="3.55" fill="#b6cefa"/>
<circle cx="113.92" cy="266.10" r="3.55" fill="#b6cefa"/>
<circle cx="126.10" cy="266.10" r="3.55" fill="#d6dce4"/>
<circle cx="138.28" cy="266.10" r="3.55" fill="#d6dce4"/>
<circle cx="4.30" cy="278.24" r="3.55" fill="#b6cefa"/>
<circle cx="16.48" cy="278.24" r="3.55" fill="#c7d7f0"/>
<circle cx="28.66" cy="278.24" r="3.55" fill="#cfdaea"/>
<circle cx="40.84" cy="278.24" r="3.55" fill="#cfdaea"/>
<circle cx="53.02" cy="278.24" r="3.55" fill="#cfdaea"/>
<circle cx="65.20" cy="278.24" r="3.55" fill="#c7d7f0"/>
<circle cx="77.38" cy="278.24" r="3.55" fill="#d6dce4"/>
<circle cx="89.56" cy="278.24" r="3.55" fill="#b6cefa"/>
<circle cx="101.74" cy="278.24" r="3.55" fill="#c7d7f0"/>
<circle cx="113.92" cy="278.24" r="3.55" fill="#a1c0ff"/>
<circle cx="126.10" cy="278.24" r="3.55" fill="#c7d7f0"/>
<circle cx="138.28" cy="278.24" r="3.55" fill="#c0d4f5"/>
<circle cx="4.30" cy="290.38" r="3.55" fill="#c0d4f5"/>
<circle cx="16.48" cy="290.38" r="3.55" fill="#c7d7f0"/>
<circle cx="28.66" cy="290.38" r="3.55" fill="#88abfd"/>
<circle cx="40.84" cy="290.38" r="3.55" fill="#c7d7f0"/>
<circle cx="53.02" cy="290.38" r="3.55" fill="#b6cefa"/>
<circle cx="65.20" cy="290.38" r="3.55" fill="#d6dce4"/>
<circle cx="77.38" cy="290.38" r="3.55" fill="#c0d4f5"/>
<circle cx="89.56" cy="290.38" r="3.55" fill="#aac7fd"/>
<circle cx="101.74" cy="290.38" r="3.55" fill="#d6dce4"/>
<circle cx="113.92" cy="290.38" r="3.55" fill="#aac7fd"/>
<circle cx="126.10" cy="290.38" r="3.55" fill="#b6cefa"/>
<circle cx="138.28" cy="290.38" r="3.55" fill="#c0d4f5"/>
<circle cx="4.30" cy="302.52" r="3.55" fill="#c7d7f0"/>
<circle cx="16.48" cy="302.52" r="3.55" fill="#e9d5cb"/>
<circle cx="28.66" cy="302.52" r="3.55" fill="#aac7fd"/>
<circle cx="40.84" cy="302.52" r="3.55" fill="#c7d7f0"/>
<circle cx="53.02" cy="302.52" r="3.55" fill="#aac7fd"/>
<circle cx="65.20" cy="302.52" r="3.55" fill="#c7d7f0"/>
<circle cx="77.38" cy="302.52" r="3.55" fill="#aac7fd"/>
<circle cx="89.56" cy="302.52" r="3.55" fill="#c0d4f5"/>
<circle cx="101.74" cy="302.52" r="3.55" fill="#a1c0ff"/>
<circle cx="113.92" cy="302.52" r="3.55" fill="#dddcdc"/>
<circle cx="126.10" cy="302.52" r="3.55" fill="#96b7ff"/>
<circle cx="138.28" cy="302.52" r="3.55" fill="#dddcdc"/>
<circle cx="4.30" cy="314.66" r="3.55" fill="#c0d4f5"/>
<circle cx="16.48" cy="314.66" r="3.55" fill="#c7d7f0"/>
<circle cx="28.66" cy="314.66" r="3.55" fill="#d6dce4"/>
<circle cx="40.84" cy="314.66" r="3.55" fill="#cfdaea"/>
<circle cx="53.02" cy="314.66" r="3.55" fill="#b6cefa"/>
<circle cx="65.20" cy="314.66" r="3.55" fill="#aac7fd"/>
<circle cx="77.38" cy="314.66" r="3.55" fill="#c7d7f0"/>
<circle cx="89.56" cy="314.66" r="3.55" fill="#b6cefa"/>
<circle cx="101.74" cy="314.66" r="3.55" fill="#aac7fd"/>
<circle cx="113.92" cy="314.66" r="3.55" fill="#cfdaea"/>
<circle cx="126.10" cy="314.66" r="3.55" fill="#b6cefa"/>
<circle cx="138.28" cy="314.66" r="3.55" fill="#e9d5cb"/>
<circle cx="4.30" cy="326.80" r="3.55" fill="#c7d7f0"/>
<circle cx="16.48" cy="326.80" r="3.55" fill="#c0d4f5"/>
<circle cx="28.66" cy="326.80" r="3.55" fill="#d6dce4"/>
<circle cx="40.84" cy="326.80" r="3.55" fill="#c0d4f5"/>
<circle cx="53.02" cy="326.80" r="3.55" fill="#a1c0ff"/>
<circle cx="65.20" cy="326.80" r="3.55" fill="#dddcdc"/>
<circle cx="77.38" cy="326.80" r="3.55" fill="#a1c0ff"/>
<circle cx="89.56" cy="326.80" r="3.55" fill="#c0d4f5"/>
<circle cx="101.74" cy="326.80" r="3.55" fill="#dddcdc"/>
<circle cx="113.92" cy="326.80" r="3.55" fill="#c0d4f5"/>
<circle cx="126.10" cy="326.80" r="3.55" fill="#aac7fd"/>
<circle cx="138.28" cy="326.80" r="3.55" fill="#c7d7f0"/>
<circle cx="4.30" cy="338.94" r="3.55" fill="#cfdaea"/>
<circle cx="16.48" cy="338.94" r="3.55" fill="#aac7fd"/>
<circle cx="28.66" cy="338.94" r="3.55" fill="#c7d7f0"/>
<circle cx="40.84" cy="338.94" r="3.55" fill="#c7d7f0"/>
<circle cx="53.02" cy="338.94" r="3.55" fill="#dddcdc"/>
<circle cx="65.20" cy="338.94" r="3.55" fill="#cfdaea"/>
<circle cx="77.38" cy="338.94" r="3.55" fill="#aac7fd"/>
<circle cx="89.56" cy="338.94" r="3.55" fill="#c0d4f5"/>
<circle cx="101.74" cy="338.94" r="3.55" fill="#c0d4f5"/>
<circle cx="113.92" cy="338.94" r="3.55" fill="#96b7ff"/>
<circle cx="126.10" cy="338.94" r="3.55" fill="#d6dce4"/>
<circle cx="138.28" cy="338.94" r="3.55" fill="#e0dbd8"/>
<circle cx="4.30" cy="351.08" r="3.55" fill="#cfdaea"/>
<circle cx="16.48" cy="351.08" r="3.55" fill="#aac7fd"/>
<circle cx="28.66" cy="351.08" r="3.55" fill="#c7d7f0"/>
<circle cx="40.84" cy="351.08" r="3.55" fill="#dddcdc"/>
<circle cx="53.02" cy="351.08" r="3.55" fill="#aac7fd"/>
<circle cx="65.20" cy="351.08" r="3.55" fill="#c0d4f5"/>
<circle cx="77.38" cy="351.08" r="3.55" fill="#c7d7f0"/>
<circle cx="89.56" cy="351.08" r="3.55" fill="#c0d4f5"/>
<circle cx="101.74" cy="351.08" r="3.55" fill="#d6dce4"/>
<circle cx="113.92" cy="351.08" r="3.55" fill="#e0dbd8"/>
<circle cx="126.10" cy="351.08" r="3.55" fill="#cfdaea"/>
<circle cx="138.28" cy="351.08" r="3.55" fill="#c7d7f0"/>
<circle cx="4.30" cy="363.22" r="3.55" fill="#b6cefa"/>
<circle cx="16.48" cy="363.22" r="3.55" fill="#dddcdc"/>
<circle cx="28.66" cy="363.22" r="3.55" fill="#cfdaea"/>
<circle cx="40.84" cy="363.22" r="3.55" fill="#cfdaea"/>
<circle cx="53.02" cy="363.22" r="3.55" fill="#c0d4f5"/>
<circle cx="65.20" cy="363.22" r="3.55" fill="#b6cefa"/>
<circle cx="77.38" cy="363.22" r="3.55" fill="#aac7fd"/>
<circle cx="89.56" cy="363.22" r="3.55" fill="#d6dce4"/>
<circle cx="101.74" cy="363.22" r="3.55" fill="#cfdaea"/>
<circle cx="113.92" cy="363.22" r="3.55" fill="#c7d7f0"/>
<circle cx="126.10" cy="363.22" r="3.55" fill="#88abfd"/>
<circle cx="138.28" cy="363.22" r="3.55" fill="#c7d7f0"/>
<circle cx="4.30" cy="375.36" r="3.55" fill="#cfdaea"/>
<circle cx="16.48" cy="375.36" r="3.55" fill="#c7d7f0"/>
<circle cx="28.66" cy="375.36" r="3.55" fill="#a1c0ff"/>
<circle cx="40.84" cy="375.36" r="3.55" fill="#dddcdc"/>
<circle cx="53.02" cy="375.36" r="3.55" fill="#c0d4f5"/>
<circle cx="65.20" cy="375.36" r="3.55" fill="#b6cefa"/>
<circle cx="77.38" cy="375.36" r="3.55" fill="#cfdaea"/>
<circle cx="89.56" cy="375.36" r="3.55" fill="#b6cefa"/>
<circle cx="101.74" cy="375.36" r="3.55" fill="#c0d4f5"/>
<circle cx="113.92" cy="375.36" r="3.55" fill="#d6dce4"/>
<circle cx="126.10" cy="375.36" r="3.55" fill="#dddcdc"/>
<circle cx="138.28" cy="375.36" r="3.55" fill="#cfdaea"/>
<circle cx="4.30" cy="387.50" r="3.55" fill="#c0d4f5"/>
<circle cx="16.48" cy="387.50" r="3.55" fill="#d6dce4"/>
<circle cx="28.66" cy="387.50" r="3.55" fill="#c0d4f5"/>
<circle cx="40.84" cy="387.50" r="3.55" fill="#e9d5cb"/>
<circle cx="53.02" cy="387.50" r="3.55" fill="#cfdaea"/>
<circle cx="65.20" cy="387.50" r="3.55" fill="#e3d9d3"/>
<circle cx="77.38" cy="387.50" r="3.55" fill="#cfdaea"/>
<circle cx="89.56" cy="387.50" r="3.55" fill="#cfdaea"/>
<circle cx="101.74" cy="387.50" r="3.55" fill="#a1c0ff"/>
<circle cx="113.92" cy="387.50" r="3.55" fill="#b6cefa"/>
<circle cx="126.10" cy="387.50" r="3.55" fill="#eed0c0"/>
<circle cx="138.28" cy="387.50" r="3.55" fill="#a1c0ff"/>
<circle cx="4.30" cy="399.64" r="3.55" fill="#d6dce4"/>
<circle cx="16.48" cy="399.64" r="3.55" fill="#c0d4f5"/>
<circle cx="28.66" cy="399.64" r="3.55" fill="#c0d4f5"/>
<circle cx="40.84" cy="399.64" r="3.55" fill="#c0d4f5"/>
<circle cx="53.02" cy="399.64" r="3.55" fill="#c7d7f0"/>
<circle cx="65.20" cy="399.64" r="3.55" fill="#b6cefa"/>
<circle cx="77.38" cy="399.64" r="3.55" fill="#aac7fd"/>
<circle cx="89.56" cy="399.64" r="3.55" fill="#cfdaea"/>
<circle cx="101.74" cy="399.64" r="3.55" fill="#c0d4f5"/>
<circle cx="113.92" cy="399.64" r="3.55" fill="#aac7fd"/>
<circle cx="126.10" cy="399.64" r="3.55" fill="#c7d7f0"/>
<circle cx="138.28" cy="399.64" r="3.55" fill="#d6dce4"/>
<text x="71.29" y="428.20" font-size="12" font-family="Liberation Serif" class="c" fill="#000" word-spacing="1.50" text-anchor="middle">(c) t = 0</text>
<circle cx="173.70" cy="266.10" r="3.55" fill="#aac7fd"/>
<circle cx="185.88" cy="266.10" r="3.55" fill="#88abfd"/>
<circle cx="198.06" cy="266.10" r="3.55" fill="#c7d7f0"/>
<circle cx="210.24" cy="266.10" r="3.55" fill="#dddcdc"/>
<circle cx="222.42" cy="266.10" r="3.55" fill="#cfdaea"/>
<circle cx="234.60" cy="266.10" r="3.55" fill="#aac7fd"/>
<circle cx="246.78" cy="266.10" r="3.55" fill="#aac7fd"/>
<circle cx="258.96" cy="266.10" r="3.55" fill="#a1c0ff"/>
<circle cx="271.14" cy="266.10" r="3.55" fill="#aac7fd"/>
<circle cx="283.32" cy="266.10" r="3.55" fill="#b6cefa"/>
<circle cx="295.50" cy="266.10" r="3.55" fill="#dddcdc"/>
<circle cx="307.68" cy="266.10" r="3.55" fill="#d6dce4"/>
<circle cx="173.70" cy="278.24" r="3.55" fill="#aac7fd"/>
<circle cx="185.88" cy="278.24" r="3.55" fill="#aac7fd"/>
<circle cx="198.06" cy="278.24" r="3.55" fill="#cfdaea"/>
<circle cx="210.24" cy="278.24" r="3.55" fill="#96b7ff"/>
<circle cx="222.42" cy="278.24" r="3.55" fill="#cfdaea"/>
<circle cx="234.60" cy="278.24" r="3.55" fill="#c7d7f0"/>
<circle cx="246.78" cy="278.24" r="3.55" fill="#aac7fd"/>
<circle cx="258.96" cy="278.24" r="3.55" fill="#b6cefa"/>
<circle cx="271.14" cy="278.24" r="3.55" fill="#dddcdc"/>
<circle cx="283.32" cy="278.24" r="3.55" fill="#aac7fd"/>
<circle cx="295.50" cy="278.24" r="3.55" fill="#c7d7f0"/>
<circle cx="307.68" cy="278.24" r="3.55" fill="#b6cefa"/>
<circle cx="173.70" cy="290.38" r="3.55" fill="#c7d7f0"/>
<circle cx="185.88" cy="290.38" r="3.55" fill="#c7d7f0"/>
<circle cx="198.06" cy="290.38" r="3.55" fill="#96b7ff"/>
<circle cx="210.24" cy="290.38" r="3.55" fill="#c7d7f0"/>
<circle cx="222.42" cy="290.38" r="3.55" fill="#96b7ff"/>
<circle cx="234.60" cy="290.38" r="3.55" fill="#d6dce4"/>
<circle cx="246.78" cy="290.38" r="3.55" fill="#b6cefa"/>
<circle cx="258.96" cy="290.38" r="3.55" fill="#a1c0ff"/>
<circle cx="271.14" cy="290.38" r="3.55" fill="#aac7fd"/>
<circle cx="283.32" cy="290.38" r="3.55" fill="#aac7fd"/>
<circle cx="295.50" cy="290.38" r="3.55" fill="#b6cefa"/>
<circle cx="307.68" cy="290.38" r="3.55" fill="#c0d4f5"/>
<circle cx="173.70" cy="302.52" r="3.55" fill="#c7d7f0"/>
<circle cx="185.88" cy="302.52" r="3.55" fill="#dddcdc"/>
<circle cx="198.06" cy="302.52" r="3.55" fill="#96b7ff"/>
<circle cx="210.24" cy="302.52" r="3.55" fill="#a1c0ff"/>
<circle cx="222.42" cy="302.52" r="3.55" fill="#aac7fd"/>
<circle cx="234.60" cy="302.52" r="3.55" fill="#c7d7f0"/>
<circle cx="246.78" cy="302.52" r="3.55" fill="#a1c0ff"/>
<circle cx="258.96" cy="302.52" r="3.55" fill="#c0d4f5"/>
<circle cx="271.14" cy="302.52" r="3.55" fill="#a1c0ff"/>
<circle cx="283.32" cy="302.52" r="3.55" fill="#dddcdc"/>
<circle cx="295.50" cy="302.52" r="3.55" fill="#88abfd"/>
<circle cx="307.68" cy="302.52" r="3.55" fill="#dddcdc"/>
<circle cx="173.70" cy="314.66" r="3.55" fill="#c0d4f5"/>
<circle cx="185.88" cy="314.66" r="3.55" fill="#cfdaea"/>
<circle cx="198.06" cy="314.66" r="3.55" fill="#d6dce4"/>
<circle cx="210.24" cy="314.66" r="3.55" fill="#cfdaea"/>
<circle cx="222.42" cy="314.66" r="3.55" fill="#c0d4f5"/>
<circle cx="234.60" cy="314.66" r="3.55" fill="#aac7fd"/>
<circle cx="246.78" cy="314.66" r="3.55" fill="#7597f6"/>
<circle cx="258.96" cy="314.66" r="3.55" fill="#d6dce4"/>
<circle cx="271.14" cy="314.66" r="3.55" fill="#aac7fd"/>
<circle cx="283.32" cy="314.66" r="3.55" fill="#e9d5cb"/>
<circle cx="295.50" cy="314.66" r="3.55" fill="#b6cefa"/>
<circle cx="307.68" cy="314.66" r="3.55" fill="#e9d5cb"/>
<circle cx="173.70" cy="326.80" r="3.55" fill="#c7d7f0"/>
<circle cx="185.88" cy="326.80" r="3.55" fill="#cfdaea"/>
<circle cx="198.06" cy="326.80" r="3.55" fill="#d6dce4"/>
<circle cx="210.24" cy="326.80" r="3.55" fill="#aac7fd"/>
<circle cx="222.42" cy="326.80" r="3.55" fill="#a1c0ff"/>
<circle cx="234.60" cy="326.80" r="3.55" fill="#d6dce4"/>
<circle cx="246.78" cy="326.80" r="3.55" fill="#6c8ff1"/>
<circle cx="258.96" cy="326.80" r="3.55" fill="#c0d4f5"/>
<circle cx="271.14" cy="326.80" r="3.55" fill="#dddcdc"/>
<circle cx="283.32" cy="326.80" r="3.55" fill="#c0d4f5"/>
<circle cx="295.50" cy="326.80" r="3.55" fill="#a1c0ff"/>
<circle cx="307.68" cy="326.80" r="3.55" fill="#c7d7f0"/>
<circle cx="173.70" cy="338.94" r="3.55" fill="#cfdaea"/>
<circle cx="185.88" cy="338.94" r="3.55" fill="#b6cefa"/>
<circle cx="198.06" cy="338.94" r="3.55" fill="#cfdaea"/>
<circle cx="210.24" cy="338.94" r="3.55" fill="#c7d7f0"/>
<circle cx="222.42" cy="338.94" r="3.55" fill="#a1c0ff"/>
<circle cx="234.60" cy="338.94" r="3.55" fill="#7597f6"/>
<circle cx="246.78" cy="338.94" r="3.55" fill="#aac7fd"/>
<circle cx="258.96" cy="338.94" r="3.55" fill="#b6cefa"/>
<circle cx="271.14" cy="338.94" r="3.55" fill="#c0d4f5"/>
<circle cx="283.32" cy="338.94" r="3.55" fill="#a1c0ff"/>
<circle cx="295.50" cy="338.94" r="3.55" fill="#d6dce4"/>
<circle cx="307.68" cy="338.94" r="3.55" fill="#e9d5cb"/>
<circle cx="173.70" cy="351.08" r="3.55" fill="#d6dce4"/>
<circle cx="185.88" cy="351.08" r="3.55" fill="#aac7fd"/>
<circle cx="198.06" cy="351.08" r="3.55" fill="#cfdaea"/>
<circle cx="210.24" cy="351.08" r="3.55" fill="#dddcdc"/>
<circle cx="222.42" cy="351.08" r="3.55" fill="#a1c0ff"/>
<circle cx="234.60" cy="351.08" r="3.55" fill="#c0d4f5"/>
<circle cx="246.78" cy="351.08" r="3.55" fill="#b6cefa"/>
<circle cx="258.96" cy="351.08" r="3.55" fill="#c7d7f0"/>
<circle cx="271.14" cy="351.08" r="3.55" fill="#dddcdc"/>
<circle cx="283.32" cy="351.08" r="3.55" fill="#dddcdc"/>
<circle cx="295.50" cy="351.08" r="3.55" fill="#96b7ff"/>
<circle cx="307.68" cy="351.08" r="3.55" fill="#c7d7f0"/>
<circle cx="173.70" cy="363.22" r="3.55" fill="#c0d4f5"/>
<circle cx="185.88" cy="363.22" r="3.55" fill="#d6dce4"/>
<circle cx="198.06" cy="363.22" r="3.55" fill="#a1c0ff"/>
<circle cx="210.24" cy="363.22" r="3.55" fill="#aac7fd"/>
<circle cx="222.42" cy="363.22" r="3.55" fill="#a1c0ff"/>
<circle cx="234.60" cy="363.22" r="3.55" fill="#a1c0ff"/>
<circle cx="246.78" cy="363.22" r="3.55" fill="#aac7fd"/>
<circle cx="258.96" cy="363.22" r="3.55" fill="#dddcdc"/>
<circle cx="271.14" cy="363.22" r="3.55" fill="#cfdaea"/>
<circle cx="283.32" cy="363.22" r="3.55" fill="#c7d7f0"/>
<circle cx="295.50" cy="363.22" r="3.55" fill="#96b7ff"/>
<circle cx="307.68" cy="363.22" r="3.55" fill="#c7d7f0"/>
<circle cx="173.70" cy="375.36" r="3.55" fill="#cfdaea"/>
<circle cx="185.88" cy="375.36" r="3.55" fill="#c7d7f0"/>
<circle cx="198.06" cy="375.36" r="3.55" fill="#a1c0ff"/>
<circle cx="210.24" cy="375.36" r="3.55" fill="#dddcdc"/>
<circle cx="222.42" cy="375.36" r="3.55" fill="#c7d7f0"/>
<circle cx="234.60" cy="375.36" r="3.55" fill="#b6cefa"/>
<circle cx="246.78" cy="375.36" r="3.55" fill="#aac7fd"/>
<circle cx="258.96" cy="375.36" r="3.55" fill="#b6cefa"/>
<circle cx="271.14" cy="375.36" r="3.55" fill="#c7d7f0"/>
<circle cx="283.32" cy="375.36" r="3.55" fill="#d6dce4"/>
<circle cx="295.50" cy="375.36" r="3.55" fill="#dddcdc"/>
<circle cx="307.68" cy="375.36" r="3.55" fill="#3c4ec2"/>
<circle cx="173.70" cy="387.50" r="3.55" fill="#c0d4f5"/>
<circle cx="185.88" cy="387.50" r="3.55" fill="#d6dce4"/>
<circle cx="198.06" cy="387.50" r="3.55" fill="#c0d4f5"/>
<circle cx="210.24" cy="387.50" r="3.55" fill="#e9d5cb"/>
<circle cx="222.42" cy="387.50" r="3.55" fill="#cfdaea"/>
<circle cx="234.60" cy="387.50" r="3.55" fill="#d6dce4"/>
<circle cx="246.78" cy="387.50" r="3.55" fill="#dddcdc"/>
<circle cx="258.96" cy="387.50" r="3.55" fill="#e9d5cb"/>
<circle cx="271.14" cy="387.50" r="3.55" fill="#7b9ff9"/>
<circle cx="283.32" cy="387.50" r="3.55" fill="#dddcdc"/>
<circle cx="295.50" cy="387.50" r="3.55" fill="#e9785d"/>
<circle cx="307.68" cy="387.50" r="3.55" fill="#88abfd"/>
<circle cx="173.70" cy="399.64" r="3.55" fill="#dddcdc"/>
<circle cx="185.88" cy="399.64" r="3.55" fill="#96b7ff"/>
<circle cx="198.06" cy="399.64" r="3.55" fill="#c0d4f5"/>
<circle cx="210.24" cy="399.64" r="3.55" fill="#c0d4f5"/>
<circle cx="222.42" cy="399.64" r="3.55" fill="#cfdaea"/>
<circle cx="234.60" cy="399.64" r="3.55" fill="#c0d4f5"/>
<circle cx="246.78" cy="399.64" r="3.55" fill="#aac7fd"/>
<circle cx="258.96" cy="399.64" r="3.55" fill="#c7d7f0"/>
<circle cx="271.14" cy="399.64" r="3.55" fill="#7b9ff9"/>
<circle cx="283.32" cy="399.64" r="3.55" fill="#88abfd"/>
<circle cx="295.50" cy="399.64" r="3.55" fill="#c7d7f0"/>
<circle cx="307.68" cy="399.64" r="3.55" fill="#cfdaea"/>
<text x="240.69" y="428.20" font-size="12" font-family="Liberation Serif" class="c" fill="#000" word-spacing="1.50" text-anchor="middle">(d) t = 0.7</text>
<circle cx="343.10" cy="266.10" r="3.55" fill="#aac7fd"/>
<circle cx="355.28" cy="266.10" r="3.55" fill="#96b7ff"/>
<circle cx="367.46" cy="266.10" r="3.55" fill="#a1c0ff"/>
<circle cx="379.64" cy="266.10" r="3.55" fill="#dddcdc"/>
<circle cx="391.82" cy="266.10" r="3.55" fill="#cfdaea"/>
<circle cx="404.00" cy="266.10" r="3.55" fill="#aac7fd"/>
<circle cx="416.18" cy="266.10" r="3.55" fill="#aac7fd"/>
<circle cx="428.36" cy="266.10" r="3.55" fill="#88abfd"/>
<circle cx="440.54" cy="266.10" r="3.55" fill="#88abfd"/>
<circle cx="452.72" cy="266.10" r="3.55" fill="#a1c0ff"/>
<circle cx="464.90" cy="266.10" r="3.55" fill="#eed0c0"/>
<circle cx="477.08" cy="266.10" r="3.55" fill="#dddcdc"/>
<circle cx="343.10" cy="278.24" r="3.55" fill="#a1c0ff"/>
<circle cx="355.28" cy="278.24" r="3.55" fill="#a1c0ff"/>
<circle cx="367.46" cy="278.24" r="3.55" fill="#96b7ff"/>
<circle cx="379.64" cy="278.24" r="3.55" fill="#96b7ff"/>
<circle cx="391.82" cy="278.24" r="3.55" fill="#7b9ff9"/>
<circle cx="404.00" cy="278.24" r="3.55" fill="#cfdaea"/>
<circle cx="416.18" cy="278.24" r="3.55" fill="#aac7fd"/>
<circle cx="428.36" cy="278.24" r="3.55" fill="#b6cefa"/>
<circle cx="440.54" cy="278.24" r="3.55" fill="#aac7fd"/>
<circle cx="452.72" cy="278.24" r="3.55" fill="#aac7fd"/>
<circle cx="464.90" cy="278.24" r="3.55" fill="#c7d7f0"/>
<circle cx="477.08" cy="278.24" r="3.55" fill="#c7d7f0"/>
<circle cx="343.10" cy="290.38" r="3.55" fill="#c0d4f5"/>
<circle cx="355.28" cy="290.38" r="3.55" fill="#cfdaea"/>
<circle cx="367.46" cy="290.38" r="3.55" fill="#96b7ff"/>
<circle cx="379.64" cy="290.38" r="3.55" fill="#96b7ff"/>
<circle cx="391.82" cy="290.38" r="3.55" fill="#7597f6"/>
<circle cx="404.00" cy="290.38" r="3.55" fill="#b6cefa"/>
<circle cx="416.18" cy="290.38" r="3.55" fill="#aac7fd"/>
<circle cx="428.36" cy="290.38" r="3.55" fill="#a1c0ff"/>
<circle cx="440.54" cy="290.38" r="3.55" fill="#aac7fd"/>
<circle cx="452.72" cy="290.38" r="3.55" fill="#88abfd"/>
<circle cx="464.90" cy="290.38" r="3.55" fill="#96b7ff"/>
<circle cx="477.08" cy="290.38" r="3.55" fill="#c0d4f5"/>
<circle cx="343.10" cy="302.52" r="3.55" fill="#dddcdc"/>
<circle cx="355.28" cy="302.52" r="3.55" fill="#cfdaea"/>
<circle cx="367.46" cy="302.52" r="3.55" fill="#96b7ff"/>
<circle cx="379.64" cy="302.52" r="3.55" fill="#a1c0ff"/>
<circle cx="391.82" cy="302.52" r="3.55" fill="#aac7fd"/>
<circle cx="404.00" cy="302.52" r="3.55" fill="#c7d7f0"/>
<circle cx="416.18" cy="302.52" r="3.55" fill="#3e51c5"/>
<circle cx="428.36" cy="302.52" r="3.55" fill="#c0d4f5"/>
<circle cx="440.54" cy="302.52" r="3.55" fill="#aac7fd"/>
<circle cx="452.72" cy="302.52" r="3.55" fill="#c53334"/>
<circle cx="464.90" cy="302.52" r="3.55" fill="#3e51c5"/>
<circle cx="477.08" cy="302.52" r="3.55" fill="#dddcdc"/>
<circle cx="343.10" cy="314.66" r="3.55" fill="#c0d4f5"/>
<circle cx="355.28" cy="314.66" r="3.55" fill="#cfdaea"/>
<circle cx="367.46" cy="314.66" r="3.55" fill="#b6cefa"/>
<circle cx="379.64" cy="314.66" r="3.55" fill="#7b9ff9"/>
<circle cx="391.82" cy="314.66" r="3.55" fill="#7b9ff9"/>
<circle cx="404.00" cy="314.66" r="3.55" fill="#7b9ff9"/>
<circle cx="416.18" cy="314.66" r="3.55" fill="#4961d2"/>
<circle cx="428.36" cy="314.66" r="3.55" fill="#d6dce4"/>
<circle cx="440.54" cy="314.66" r="3.55" fill="#b6cefa"/>
<circle cx="452.72" cy="314.66" r="3.55" fill="#f7ac8e"/>
<circle cx="464.90" cy="314.66" r="3.55" fill="#e36c55"/>
<circle cx="477.08" cy="314.66" r="3.55" fill="#e9d5cb"/>
<circle cx="343.10" cy="326.80" r="3.55" fill="#c7d7f0"/>
<circle cx="355.28" cy="326.80" r="3.55" fill="#cfdaea"/>
<circle cx="367.46" cy="326.80" r="3.55" fill="#d6dce4"/>
<circle cx="379.64" cy="326.80" r="3.55" fill="#aac7fd"/>
<circle cx="391.82" cy="326.80" r="3.55" fill="#a1c0ff"/>
<circle cx="404.00" cy="326.80" r="3.55" fill="#6c8ff1"/>
<circle cx="416.18" cy="326.80" r="3.55" fill="#6485ec"/>
<circle cx="428.36" cy="326.80" r="3.55" fill="#b6cefa"/>
<circle cx="440.54" cy="326.80" r="3.55" fill="#dddcdc"/>
<circle cx="452.72" cy="326.80" r="3.55" fill="#c0d4f5"/>
<circle cx="464.90" cy="326.80" r="3.55" fill="#7597f6"/>
<circle cx="477.08" cy="326.80" r="3.55" fill="#c7d7f0"/>
<circle cx="343.10" cy="338.94" r="3.55" fill="#cfdaea"/>
<circle cx="355.28" cy="338.94" r="3.55" fill="#88abfd"/>
<circle cx="367.46" cy="338.94" r="3.55" fill="#cfdaea"/>
<circle cx="379.64" cy="338.94" r="3.55" fill="#aac7fd"/>
<circle cx="391.82" cy="338.94" r="3.55" fill="#6485ec"/>
<circle cx="404.00" cy="338.94" r="3.55" fill="#7b9ff9"/>
<circle cx="416.18" cy="338.94" r="3.55" fill="#a1c0ff"/>
<circle cx="428.36" cy="338.94" r="3.55" fill="#dddcdc"/>
<circle cx="440.54" cy="338.94" r="3.55" fill="#aac7fd"/>
<circle cx="452.72" cy="338.94" r="3.55" fill="#536edd"/>
<circle cx="464.90" cy="338.94" r="3.55" fill="#f7ac8e"/>
<circle cx="477.08" cy="338.94" r="3.55" fill="#e9d5cb"/>
<circle cx="343.10" cy="351.08" r="3.55" fill="#c7d7f0"/>
<circle cx="355.28" cy="351.08" r="3.55" fill="#aac7fd"/>
<circle cx="367.46" cy="351.08" r="3.55" fill="#c7d7f0"/>
<circle cx="379.64" cy="351.08" r="3.55" fill="#aac7fd"/>
<circle cx="391.82" cy="351.08" r="3.55" fill="#aac7fd"/>
<circle cx="404.00" cy="351.08" r="3.55" fill="#c0d4f5"/>
<circle cx="416.18" cy="351.08" r="3.55" fill="#88abfd"/>
<circle cx="428.36" cy="351.08" r="3.55" fill="#e9d5cb"/>
<circle cx="440.54" cy="351.08" r="3.55" fill="#dddcdc"/>
<circle cx="452.72" cy="351.08" r="3.55" fill="#cfdaea"/>
<circle cx="464.90" cy="351.08" r="3.55" fill="#a1c0ff"/>
<circle cx="477.08" cy="351.08" r="3.55" fill="#c0d4f5"/>
<circle cx="343.10" cy="363.22" r="3.55" fill="#b6cefa"/>
<circle cx="355.28" cy="363.22" r="3.55" fill="#dddcdc"/>
<circle cx="367.46" cy="363.22" r="3.55" fill="#aac7fd"/>
<circle cx="379.64" cy="363.22" r="3.55" fill="#a1c0ff"/>
<circle cx="391.82" cy="363.22" r="3.55" fill="#aac7fd"/>
<circle cx="404.00" cy="363.22" r="3.55" fill="#aac7fd"/>
<circle cx="416.18" cy="363.22" r="3.55" fill="#b6cefa"/>
<circle cx="428.36" cy="363.22" r="3.55" fill="#dddcdc"/>
<circle cx="440.54" cy="363.22" r="3.55" fill="#cfdaea"/>
<circle cx="452.72" cy="363.22" r="3.55" fill="#cfdaea"/>
<circle cx="464.90" cy="363.22" r="3.55" fill="#a1c0ff"/>
<circle cx="477.08" cy="363.22" r="3.55" fill="#c7d7f0"/>
<circle cx="343.10" cy="375.36" r="3.55" fill="#f5c4ac"/>
<circle cx="355.28" cy="375.36" r="3.55" fill="#96b7ff"/>
<circle cx="367.46" cy="375.36" r="3.55" fill="#7b9ff9"/>
<circle cx="379.64" cy="375.36" r="3.55" fill="#aac7fd"/>
<circle cx="391.82" cy="375.36" r="3.55" fill="#c0d4f5"/>
<circle cx="404.00" cy="375.36" r="3.55" fill="#c0d4f5"/>
<circle cx="416.18" cy="375.36" r="3.55" fill="#a1c0ff"/>
<circle cx="428.36" cy="375.36" r="3.55" fill="#b6cefa"/>
<circle cx="440.54" cy="375.36" r="3.55" fill="#5d7ce6"/>
<circle cx="452.72" cy="375.36" r="3.55" fill="#dddcdc"/>
<circle cx="464.90" cy="375.36" r="3.55" fill="#eed0c0"/>
<circle cx="477.08" cy="375.36" r="3.55" fill="#3e51c5"/>
<circle cx="343.10" cy="387.50" r="3.55" fill="#96b7ff"/>
<circle cx="355.28" cy="387.50" r="3.55" fill="#cfdaea"/>
<circle cx="367.46" cy="387.50" r="3.55" fill="#c7d7f0"/>
<circle cx="379.64" cy="387.50" r="3.55" fill="#96b7ff"/>
<circle cx="391.82" cy="387.50" r="3.55" fill="#dddcdc"/>
<circle cx="404.00" cy="387.50" r="3.55" fill="#dddcdc"/>
<circle cx="416.18" cy="387.50" r="3.55" fill="#dddcdc"/>
<circle cx="428.36" cy="387.50" r="3.55" fill="#d6dce4"/>
<circle cx="440.54" cy="387.50" r="3.55" fill="#88abfd"/>
<circle cx="452.72" cy="387.50" r="3.55" fill="#5d7ce6"/>
<circle cx="464.90" cy="387.50" r="3.55" fill="#b40426"/>
<circle cx="477.08" cy="387.50" r="3.55" fill="#445acc"/>
<circle cx="343.10" cy="399.64" r="3.55" fill="#d6dce4"/>
<circle cx="355.28" cy="399.64" r="3.55" fill="#a1c0ff"/>
<circle cx="367.46" cy="399.64" r="3.55" fill="#a1c0ff"/>
<circle cx="379.64" cy="399.64" r="3.55" fill="#aac7fd"/>
<circle cx="391.82" cy="399.64" r="3.55" fill="#b6cefa"/>
<circle cx="404.00" cy="399.64" r="3.55" fill="#a1c0ff"/>
<circle cx="416.18" cy="399.64" r="3.55" fill="#96b7ff"/>
<circle cx="428.36" cy="399.64" r="3.55" fill="#c7d7f0"/>
<circle cx="440.54" cy="399.64" r="3.55" fill="#7b9ff9"/>
<circle cx="452.72" cy="399.64" r="3.55" fill="#96b7ff"/>
<circle cx="464.90" cy="399.64" r="3.55" fill="#7597f6"/>
<circle cx="477.08" cy="399.64" r="3.55" fill="#d6dce4"/>
<text x="410.09" y="428.20" font-size="12" font-family="Liberation Serif" class="c" fill="#000" word-spacing="1.50" text-anchor="middle">(e) t = 1.7</text>
<circle cx="512.50" cy="266.10" r="3.55" fill="#96b7ff"/>
<circle cx="524.68" cy="266.10" r="3.55" fill="#7b9ff9"/>
<circle cx="536.86" cy="266.10" r="3.55" fill="#7b9ff9"/>
<circle cx="549.04" cy="266.10" r="3.55" fill="#dddcdc"/>
<circle cx="561.22" cy="266.10" r="3.55" fill="#5d7ce6"/>
<circle cx="573.40" cy="266.10" r="3.55" fill="#a1c0ff"/>
<circle cx="585.58" cy="266.10" r="3.55" fill="#a1c0ff"/>
<circle cx="597.76" cy="266.10" r="3.55" fill="#5d7ce6"/>
<circle cx="609.94" cy="266.10" r="3.55" fill="#7b9ff9"/>
<circle cx="622.12" cy="266.10" r="3.55" fill="#7597f6"/>
<circle cx="634.30" cy="266.10" r="3.55" fill="#e3d9d3"/>
<circle cx="646.48" cy="266.10" r="3.55" fill="#7b9ff9"/>
<circle cx="512.50" cy="278.24" r="3.55" fill="#445acc"/>
<circle cx="524.68" cy="278.24" r="3.55" fill="#7b9ff9"/>
<circle cx="536.86" cy="278.24" r="3.55" fill="#88abfd"/>
<circle cx="549.04" cy="278.24" r="3.55" fill="#7b9ff9"/>
<circle cx="561.22" cy="278.24" r="3.55" fill="#7597f6"/>
<circle cx="573.40" cy="278.24" r="3.55" fill="#b6cefa"/>
<circle cx="585.58" cy="278.24" r="3.55" fill="#aac7fd"/>
<circle cx="597.76" cy="278.24" r="3.55" fill="#aac7fd"/>
<circle cx="609.94" cy="278.24" r="3.55" fill="#88abfd"/>
<circle cx="622.12" cy="278.24" r="3.55" fill="#96b7ff"/>
<circle cx="634.30" cy="278.24" r="3.55" fill="#c7d7f0"/>
<circle cx="646.48" cy="278.24" r="3.55" fill="#445acc"/>
<circle cx="512.50" cy="290.38" r="3.55" fill="#c0d4f5"/>
<circle cx="524.68" cy="290.38" r="3.55" fill="#cfdaea"/>
<circle cx="536.86" cy="290.38" r="3.55" fill="#88abfd"/>
<circle cx="549.04" cy="290.38" r="3.55" fill="#7b9ff9"/>
<circle cx="561.22" cy="290.38" r="3.55" fill="#6c8ff1"/>
<circle cx="573.40" cy="290.38" r="3.55" fill="#445acc"/>
<circle cx="585.58" cy="290.38" r="3.55" fill="#aac7fd"/>
<circle cx="597.76" cy="290.38" r="3.55" fill="#88abfd"/>
<circle cx="609.94" cy="290.38" r="3.55" fill="#aac7fd"/>
<circle cx="622.12" cy="290.38" r="3.55" fill="#96b7ff"/>
<circle cx="634.30" cy="290.38" r="3.55" fill="#3e51c5"/>
<circle cx="646.48" cy="290.38" r="3.55" fill="#b6cefa"/>
<circle cx="512.50" cy="302.52" r="3.55" fill="#c0d4f5"/>
<circle cx="524.68" cy="302.52" r="3.55" fill="#7597f6"/>
<circle cx="536.86" cy="302.52" r="3.55" fill="#6485ec"/>
<circle cx="549.04" cy="302.52" r="3.55" fill="#a1c0ff"/>
<circle cx="561.22" cy="302.52" r="3.55" fill="#aac7fd"/>
<circle cx="573.40" cy="302.52" r="3.55" fill="#5d7ce6"/>
<circle cx="585.58" cy="302.52" r="3.55" fill="#3c4ec2"/>
<circle cx="597.76" cy="302.52" r="3.55" fill="#c0d4f5"/>
<circle cx="609.94" cy="302.52" r="3.55" fill="#536edd"/>
<circle cx="622.12" cy="302.52" r="3.55" fill="#c53334"/>
<circle cx="634.30" cy="302.52" r="3.55" fill="#445acc"/>
<circle cx="646.48" cy="302.52" r="3.55" fill="#c7d7f0"/>
<circle cx="512.50" cy="314.66" r="3.55" fill="#c0d4f5"/>
<circle cx="524.68" cy="314.66" r="3.55" fill="#d6dce4"/>
<circle cx="536.86" cy="314.66" r="3.55" fill="#6485ec"/>
<circle cx="549.04" cy="314.66" r="3.55" fill="#7b9ff9"/>
<circle cx="561.22" cy="314.66" r="3.55" fill="#6c8ff1"/>
<circle cx="573.40" cy="314.66" r="3.55" fill="#6485ec"/>
<circle cx="585.58" cy="314.66" r="3.55" fill="#3e51c5"/>
<circle cx="597.76" cy="314.66" r="3.55" fill="#4961d2"/>
<circle cx="609.94" cy="314.66" r="3.55" fill="#b40426"/>
<circle cx="622.12" cy="314.66" r="3.55" fill="#dd5f4b"/>
<circle cx="634.30" cy="314.66" r="3.55" fill="#dd5f4b"/>
<circle cx="646.48" cy="314.66" r="3.55" fill="#dddcdc"/>
<circle cx="512.50" cy="326.80" r="3.55" fill="#c7d7f0"/>
<circle cx="524.68" cy="326.80" r="3.55" fill="#cfdaea"/>
<circle cx="536.86" cy="326.80" r="3.55" fill="#dddcdc"/>
<circle cx="549.04" cy="326.80" r="3.55" fill="#5d7ce6"/>
<circle cx="561.22" cy="326.80" r="3.55" fill="#88abfd"/>
<circle cx="573.40" cy="326.80" r="3.55" fill="#7597f6"/>
<circle cx="585.58" cy="326.80" r="3.55" fill="#6485ec"/>
<circle cx="597.76" cy="326.80" r="3.55" fill="#88abfd"/>
<circle cx="609.94" cy="326.80" r="3.55" fill="#f7b599"/>
<circle cx="622.12" cy="326.80" r="3.55" fill="#b40426"/>
<circle cx="634.30" cy="326.80" r="3.55" fill="#3e51c5"/>
<circle cx="646.48" cy="326.80" r="3.55" fill="#c7d7f0"/>
<circle cx="512.50" cy="338.94" r="3.55" fill="#4961d2"/>
<circle cx="524.68" cy="338.94" r="3.55" fill="#6485ec"/>
<circle cx="536.86" cy="338.94" r="3.55" fill="#6485ec"/>
<circle cx="549.04" cy="338.94" r="3.55" fill="#96b7ff"/>
<circle cx="561.22" cy="338.94" r="3.55" fill="#3c4ec2"/>
<circle cx="573.40" cy="338.94" r="3.55" fill="#7b9ff9"/>
<circle cx="585.58" cy="338.94" r="3.55" fill="#96b7ff"/>
<circle cx="597.76" cy="338.94" r="3.55" fill="#dddcdc"/>
<circle cx="609.94" cy="338.94" r="3.55" fill="#96b7ff"/>
<circle cx="622.12" cy="338.94" r="3.55" fill="#4961d2"/>
<circle cx="634.30" cy="338.94" r="3.55" fill="#bd1f2d"/>
<circle cx="646.48" cy="338.94" r="3.55" fill="#96b7ff"/>
<circle cx="512.50" cy="351.08" r="3.55" fill="#b6cefa"/>
<circle cx="524.68" cy="351.08" r="3.55" fill="#7b9ff9"/>
<circle cx="536.86" cy="351.08" r="3.55" fill="#c7d7f0"/>
<circle cx="549.04" cy="351.08" r="3.55" fill="#a1c0ff"/>
<circle cx="561.22" cy="351.08" r="3.55" fill="#88abfd"/>
<circle cx="573.40" cy="351.08" r="3.55" fill="#6485ec"/>
<circle cx="585.58" cy="351.08" r="3.55" fill="#445acc"/>
<circle cx="597.76" cy="351.08" r="3.55" fill="#d6dce4"/>
<circle cx="609.94" cy="351.08" r="3.55" fill="#6485ec"/>
<circle cx="622.12" cy="351.08" r="3.55" fill="#d6dce4"/>
<circle cx="634.30" cy="351.08" r="3.55" fill="#f7ac8e"/>
<circle cx="646.48" cy="351.08" r="3.55" fill="#96b7ff"/>
<circle cx="512.50" cy="363.22" r="3.55" fill="#aac7fd"/>
<circle cx="524.68" cy="363.22" r="3.55" fill="#dddcdc"/>
<circle cx="536.86" cy="363.22" r="3.55" fill="#a1c0ff"/>
<circle cx="549.04" cy="363.22" r="3.55" fill="#88abfd"/>
<circle cx="561.22" cy="363.22" r="3.55" fill="#a1c0ff"/>
<circle cx="573.40" cy="363.22" r="3.55" fill="#6c8ff1"/>
<circle cx="585.58" cy="363.22" r="3.55" fill="#5d7ce6"/>
<circle cx="597.76" cy="363.22" r="3.55" fill="#3c4ec2"/>
<circle cx="609.94" cy="363.22" r="3.55" fill="#445acc"/>
<circle cx="622.12" cy="363.22" r="3.55" fill="#3c4ec2"/>
<circle cx="634.30" cy="363.22" r="3.55" fill="#7597f6"/>
<circle cx="646.48" cy="363.22" r="3.55" fill="#a1c0ff"/>
<circle cx="512.50" cy="375.36" r="3.55" fill="#dddcdc"/>
<circle cx="524.68" cy="375.36" r="3.55" fill="#96b7ff"/>
<circle cx="536.86" cy="375.36" r="3.55" fill="#3c4ec2"/>
<circle cx="549.04" cy="375.36" r="3.55" fill="#6485ec"/>
<circle cx="561.22" cy="375.36" r="3.55" fill="#96b7ff"/>
<circle cx="573.40" cy="375.36" r="3.55" fill="#a1c0ff"/>
<circle cx="585.58" cy="375.36" r="3.55" fill="#96b7ff"/>
<circle cx="597.76" cy="375.36" r="3.55" fill="#6485ec"/>
<circle cx="609.94" cy="375.36" r="3.55" fill="#3c4ec2"/>
<circle cx="622.12" cy="375.36" r="3.55" fill="#dddcdc"/>
<circle cx="634.30" cy="375.36" r="3.55" fill="#3e51c5"/>
<circle cx="646.48" cy="375.36" r="3.55" fill="#3c4ec2"/>
<circle cx="512.50" cy="387.50" r="3.55" fill="#5d7ce6"/>
<circle cx="524.68" cy="387.50" r="3.55" fill="#a1c0ff"/>
<circle cx="536.86" cy="387.50" r="3.55" fill="#7b9ff9"/>
<circle cx="549.04" cy="387.50" r="3.55" fill="#6485ec"/>
<circle cx="561.22" cy="387.50" r="3.55" fill="#dddcdc"/>
<circle cx="573.40" cy="387.50" r="3.55" fill="#5d7ce6"/>
<circle cx="585.58" cy="387.50" r="3.55" fill="#b40426"/>
<circle cx="597.76" cy="387.50" r="3.55" fill="#7b9ff9"/>
<circle cx="609.94" cy="387.50" r="3.55" fill="#5d7ce6"/>
<circle cx="622.12" cy="387.50" r="3.55" fill="#445acc"/>
<circle cx="634.30" cy="387.50" r="3.55" fill="#b40426"/>
<circle cx="646.48" cy="387.50" r="3.55" fill="#3e51c5"/>
<circle cx="512.50" cy="399.64" r="3.55" fill="#7b9ff9"/>
<circle cx="524.68" cy="399.64" r="3.55" fill="#6c8ff1"/>
<circle cx="536.86" cy="399.64" r="3.55" fill="#a1c0ff"/>
<circle cx="549.04" cy="399.64" r="3.55" fill="#7b9ff9"/>
<circle cx="561.22" cy="399.64" r="3.55" fill="#3e51c5"/>
<circle cx="573.40" cy="399.64" r="3.55" fill="#88abfd"/>
<circle cx="585.58" cy="399.64" r="3.55" fill="#96b7ff"/>
<circle cx="597.76" cy="399.64" r="3.55" fill="#96b7ff"/>
<circle cx="609.94" cy="399.64" r="3.55" fill="#5d7ce6"/>
<circle cx="622.12" cy="399.64" r="3.55" fill="#3c4ec2"/>
<circle cx="634.30" cy="399.64" r="3.55" fill="#6c8ff1"/>
<circle cx="646.48" cy="399.64" r="3.55" fill="#96b7ff"/>
<text x="579.49" y="428.20" font-size="12" font-family="Liberation Serif" class="c" fill="#000" word-spacing="1.50" text-anchor="middle">(f) t = 3.5</text>
<circle cx="4.30" cy="455.20" r="3.55" fill="#7b9ff9"/>
<circle cx="16.48" cy="455.20" r="3.55" fill="#7b9ff9"/>
<circle cx="28.66" cy="455.20" r="3.55" fill="#6c8ff1"/>
<circle cx="40.84" cy="455.20" r="3.55" fill="#dddcdc"/>
<circle cx="53.02" cy="455.20" r="3.55" fill="#3e51c5"/>
<circle cx="65.20" cy="455.20" r="3.55" fill="#a1c0ff"/>
<circle cx="77.38" cy="455.20" r="3.55" fill="#536edd"/>
<circle cx="89.56" cy="455.20" r="3.55" fill="#6c8ff1"/>
<circle cx="101.74" cy="455.20" r="3.55" fill="#7597f6"/>
<circle cx="113.92" cy="455.20" r="3.55" fill="#7b9ff9"/>
<circle cx="126.10" cy="455.20" r="3.55" fill="#5d7ce6"/>
<circle cx="138.28" cy="455.20" r="3.55" fill="#7597f6"/>
<circle cx="4.30" cy="467.34" r="3.55" fill="#3e51c5"/>
<circle cx="16.48" cy="467.34" r="3.55" fill="#3e51c5"/>
<circle cx="28.66" cy="467.34" r="3.55" fill="#536edd"/>
<circle cx="40.84" cy="467.34" r="3.55" fill="#96b7ff"/>
<circle cx="53.02" cy="467.34" r="3.55" fill="#7597f6"/>
<circle cx="65.20" cy="467.34" r="3.55" fill="#4961d2"/>
<circle cx="77.38" cy="467.34" r="3.55" fill="#aac7fd"/>
<circle cx="89.56" cy="467.34" r="3.55" fill="#b40426"/>
<circle cx="101.74" cy="467.34" r="3.55" fill="#b40426"/>
<circle cx="113.92" cy="467.34" r="3.55" fill="#88abfd"/>
<circle cx="126.10" cy="467.34" r="3.55" fill="#88abfd"/>
<circle cx="138.28" cy="467.34" r="3.55" fill="#3e51c5"/>
<circle cx="4.30" cy="479.48" r="3.55" fill="#3e51c5"/>
<circle cx="16.48" cy="479.48" r="3.55" fill="#5d7ce6"/>
<circle cx="28.66" cy="479.48" r="3.55" fill="#6c8ff1"/>
<circle cx="40.84" cy="479.48" r="3.55" fill="#6c8ff1"/>
<circle cx="53.02" cy="479.48" r="3.55" fill="#6485ec"/>
<circle cx="65.20" cy="479.48" r="3.55" fill="#445acc"/>
<circle cx="77.38" cy="479.48" r="3.55" fill="#aac7fd"/>
<circle cx="89.56" cy="479.48" r="3.55" fill="#b40426"/>
<circle cx="101.74" cy="479.48" r="3.55" fill="#b40426"/>
<circle cx="113.92" cy="479.48" r="3.55" fill="#5d7ce6"/>
<circle cx="126.10" cy="479.48" r="3.55" fill="#445acc"/>
<circle cx="138.28" cy="479.48" r="3.55" fill="#5d7ce6"/>
<circle cx="4.30" cy="491.62" r="3.55" fill="#96b7ff"/>
<circle cx="16.48" cy="491.62" r="3.55" fill="#4961d2"/>
<circle cx="28.66" cy="491.62" r="3.55" fill="#536edd"/>
<circle cx="40.84" cy="491.62" r="3.55" fill="#6c8ff1"/>
<circle cx="53.02" cy="491.62" r="3.55" fill="#aac7fd"/>
<circle cx="65.20" cy="491.62" r="3.55" fill="#6485ec"/>
<circle cx="77.38" cy="491.62" r="3.55" fill="#445acc"/>
<circle cx="89.56" cy="491.62" r="3.55" fill="#b40426"/>
<circle cx="101.74" cy="491.62" r="3.55" fill="#b40426"/>
<circle cx="113.92" cy="491.62" r="3.55" fill="#b40426"/>
<circle cx="126.10" cy="491.62" r="3.55" fill="#3e51c5"/>
<circle cx="138.28" cy="491.62" r="3.55" fill="#c7d7f0"/>
<circle cx="4.30" cy="503.76" r="3.55" fill="#c0d4f5"/>
<circle cx="16.48" cy="503.76" r="3.55" fill="#cfdaea"/>
<circle cx="28.66" cy="503.76" r="3.55" fill="#3e51c5"/>
<circle cx="40.84" cy="503.76" r="3.55" fill="#5d7ce6"/>
<circle cx="53.02" cy="503.76" r="3.55" fill="#7597f6"/>
<circle cx="65.20" cy="503.76" r="3.55" fill="#6485ec"/>
<circle cx="77.38" cy="503.76" r="3.55" fill="#4961d2"/>
<circle cx="89.56" cy="503.76" r="3.55" fill="#445acc"/>
<circle cx="101.74" cy="503.76" r="3.55" fill="#b40426"/>
<circle cx="113.92" cy="503.76" r="3.55" fill="#cf453c"/>
<circle cx="126.10" cy="503.76" r="3.55" fill="#cf453c"/>
<circle cx="138.28" cy="503.76" r="3.55" fill="#d65244"/>
<circle cx="4.30" cy="515.90" r="3.55" fill="#c7d7f0"/>
<circle cx="16.48" cy="515.90" r="3.55" fill="#cfdaea"/>
<circle cx="28.66" cy="515.90" r="3.55" fill="#dddcdc"/>
<circle cx="40.84" cy="515.90" r="3.55" fill="#6485ec"/>
<circle cx="53.02" cy="515.90" r="3.55" fill="#7b9ff9"/>
<circle cx="65.20" cy="515.90" r="3.55" fill="#88abfd"/>
<circle cx="77.38" cy="515.90" r="3.55" fill="#4961d2"/>
<circle cx="89.56" cy="515.90" r="3.55" fill="#b40426"/>
<circle cx="101.74" cy="515.90" r="3.55" fill="#b40426"/>
<circle cx="113.92" cy="515.90" r="3.55" fill="#b40426"/>
<circle cx="126.10" cy="515.90" r="3.55" fill="#3e51c5"/>
<circle cx="138.28" cy="515.90" r="3.55" fill="#c7d7f0"/>
<circle cx="4.30" cy="528.04" r="3.55" fill="#3e51c5"/>
<circle cx="16.48" cy="528.04" r="3.55" fill="#445acc"/>
<circle cx="28.66" cy="528.04" r="3.55" fill="#6485ec"/>
<circle cx="40.84" cy="528.04" r="3.55" fill="#536edd"/>
<circle cx="53.02" cy="528.04" r="3.55" fill="#3e51c5"/>
<circle cx="65.20" cy="528.04" r="3.55" fill="#88abfd"/>
<circle cx="77.38" cy="528.04" r="3.55" fill="#96b7ff"/>
<circle cx="89.56" cy="528.04" r="3.55" fill="#dddcdc"/>
<circle cx="101.74" cy="528.04" r="3.55" fill="#b40426"/>
<circle cx="113.92" cy="528.04" r="3.55" fill="#445acc"/>
<circle cx="126.10" cy="528.04" r="3.55" fill="#b40426"/>
<circle cx="138.28" cy="528.04" r="3.55" fill="#c53334"/>
<circle cx="4.30" cy="540.18" r="3.55" fill="#b6cefa"/>
<circle cx="16.48" cy="540.18" r="3.55" fill="#6c8ff1"/>
<circle cx="28.66" cy="540.18" r="3.55" fill="#88abfd"/>
<circle cx="40.84" cy="540.18" r="3.55" fill="#aac7fd"/>
<circle cx="53.02" cy="540.18" r="3.55" fill="#6c8ff1"/>
<circle cx="65.20" cy="540.18" r="3.55" fill="#536edd"/>
<circle cx="77.38" cy="540.18" r="3.55" fill="#4961d2"/>
<circle cx="89.56" cy="540.18" r="3.55" fill="#3c4ec2"/>
<circle cx="101.74" cy="540.18" r="3.55" fill="#6485ec"/>
<circle cx="113.92" cy="540.18" r="3.55" fill="#cfdaea"/>
<circle cx="126.10" cy="540.18" r="3.55" fill="#5d7ce6"/>
<circle cx="138.28" cy="540.18" r="3.55" fill="#7597f6"/>
<circle cx="4.30" cy="552.32" r="3.55" fill="#5d7ce6"/>
<circle cx="16.48" cy="552.32" r="3.55" fill="#7b9ff9"/>
<circle cx="28.66" cy="552.32" r="3.55" fill="#6c8ff1"/>
<circle cx="40.84" cy="552.32" r="3.55" fill="#6485ec"/>
<circle cx="53.02" cy="552.32" r="3.55" fill="#a1c0ff"/>
<circle cx="65.20" cy="552.32" r="3.55" fill="#5d7ce6"/>
<circle cx="77.38" cy="552.32" r="3.55" fill="#4961d2"/>
<circle cx="89.56" cy="552.32" r="3.55" fill="#3c4ec2"/>
<circle cx="101.74" cy="552.32" r="3.55" fill="#4961d2"/>
<circle cx="113.92" cy="552.32" r="3.55" fill="#445acc"/>
<circle cx="126.10" cy="552.32" r="3.55" fill="#6485ec"/>
<circle cx="138.28" cy="552.32" r="3.55" fill="#6c8ff1"/>
<circle cx="4.30" cy="564.46" r="3.55" fill="#6485ec"/>
<circle cx="16.48" cy="564.46" r="3.55" fill="#7597f6"/>
<circle cx="28.66" cy="564.46" r="3.55" fill="#3e51c5"/>
<circle cx="40.84" cy="564.46" r="3.55" fill="#5d7ce6"/>
<circle cx="53.02" cy="564.46" r="3.55" fill="#96b7ff"/>
<circle cx="65.20" cy="564.46" r="3.55" fill="#3e51c5"/>
<circle cx="77.38" cy="564.46" r="3.55" fill="#88abfd"/>
<circle cx="89.56" cy="564.46" r="3.55" fill="#6c8ff1"/>
<circle cx="101.74" cy="564.46" r="3.55" fill="#445acc"/>
<circle cx="113.92" cy="564.46" r="3.55" fill="#3e51c5"/>
<circle cx="126.10" cy="564.46" r="3.55" fill="#3e51c5"/>
<circle cx="138.28" cy="564.46" r="3.55" fill="#3e51c5"/>
<circle cx="4.30" cy="576.60" r="3.55" fill="#445acc"/>
<circle cx="16.48" cy="576.60" r="3.55" fill="#6c8ff1"/>
<circle cx="28.66" cy="576.60" r="3.55" fill="#5d7ce6"/>
<circle cx="40.84" cy="576.60" r="3.55" fill="#6c8ff1"/>
<circle cx="53.02" cy="576.60" r="3.55" fill="#d6dce4"/>
<circle cx="65.20" cy="576.60" r="3.55" fill="#5d7ce6"/>
<circle cx="77.38" cy="576.60" r="3.55" fill="#b40426"/>
<circle cx="89.56" cy="576.60" r="3.55" fill="#6c8ff1"/>
<circle cx="101.74" cy="576.60" r="3.55" fill="#536edd"/>
<circle cx="113.92" cy="576.60" r="3.55" fill="#445acc"/>
<circle cx="126.10" cy="576.60" r="3.55" fill="#b40426"/>
<circle cx="138.28" cy="576.60" r="3.55" fill="#3e51c5"/>
<circle cx="4.30" cy="588.74" r="3.55" fill="#6c8ff1"/>
<circle cx="16.48" cy="588.74" r="3.55" fill="#6c8ff1"/>
<circle cx="28.66" cy="588.74" r="3.55" fill="#6c8ff1"/>
<circle cx="40.84" cy="588.74" r="3.55" fill="#6c8ff1"/>
<circle cx="53.02" cy="588.74" r="3.55" fill="#3e51c5"/>
<circle cx="65.20" cy="588.74" r="3.55" fill="#88abfd"/>
<circle cx="77.38" cy="588.74" r="3.55" fill="#a1c0ff"/>
<circle cx="89.56" cy="588.74" r="3.55" fill="#96b7ff"/>
<circle cx="101.74" cy="588.74" r="3.55" fill="#5d7ce6"/>
<circle cx="113.92" cy="588.74" r="3.55" fill="#3e51c5"/>
<circle cx="126.10" cy="588.74" r="3.55" fill="#5d7ce6"/>
<circle cx="138.28" cy="588.74" r="3.55" fill="#7597f6"/>
<text x="71.29" y="617.30" font-size="12" font-family="Liberation Serif" class="c" fill="#000" word-spacing="1.50" text-anchor="middle">(g) t = 5.2</text>
<circle cx="173.70" cy="455.20" r="3.55" fill="#6c8ff1"/>
<circle cx="185.88" cy="455.20" r="3.55" fill="#6c8ff1"/>
<circle cx="198.06" cy="455.20" r="3.55" fill="#6c8ff1"/>
<circle cx="210.24" cy="455.20" r="3.55" fill="#dddcdc"/>
<circle cx="222.42" cy="455.20" r="3.55" fill="#445acc"/>
<circle cx="234.60" cy="455.20" r="3.55" fill="#96b7ff"/>
<circle cx="246.78" cy="455.20" r="3.55" fill="#3e51c5"/>
<circle cx="258.96" cy="455.20" r="3.55" fill="#536edd"/>
<circle cx="271.14" cy="455.20" r="3.55" fill="#3e51c5"/>
<circle cx="283.32" cy="455.20" r="3.55" fill="#6c8ff1"/>
<circle cx="295.50" cy="455.20" r="3.55" fill="#6485ec"/>
<circle cx="307.68" cy="455.20" r="3.55" fill="#6c8ff1"/>
<circle cx="173.70" cy="467.34" r="3.55" fill="#3e51c5"/>
<circle cx="185.88" cy="467.34" r="3.55" fill="#3e51c5"/>
<circle cx="198.06" cy="467.34" r="3.55" fill="#445acc"/>
<circle cx="210.24" cy="467.34" r="3.55" fill="#6c8ff1"/>
<circle cx="222.42" cy="467.34" r="3.55" fill="#6c8ff1"/>
<circle cx="234.60" cy="467.34" r="3.55" fill="#445acc"/>
<circle cx="246.78" cy="467.34" r="3.55" fill="#aac7fd"/>
<circle cx="258.96" cy="467.34" r="3.55" fill="#b40426"/>
<circle cx="271.14" cy="467.34" r="3.55" fill="#b40426"/>
<circle cx="283.32" cy="467.34" r="3.55" fill="#3e51c5"/>
<circle cx="295.50" cy="467.34" r="3.55" fill="#6c8ff1"/>
<circle cx="307.68" cy="467.34" r="3.55" fill="#3e51c5"/>
<circle cx="173.70" cy="479.48" r="3.55" fill="#3e51c5"/>
<circle cx="185.88" cy="479.48" r="3.55" fill="#536edd"/>
<circle cx="198.06" cy="479.48" r="3.55" fill="#5d7ce6"/>
<circle cx="210.24" cy="479.48" r="3.55" fill="#6485ec"/>
<circle cx="222.42" cy="479.48" r="3.55" fill="#5d7ce6"/>
<circle cx="234.60" cy="479.48" r="3.55" fill="#3e51c5"/>
<circle cx="246.78" cy="479.48" r="3.55" fill="#aac7fd"/>
<circle cx="258.96" cy="479.48" r="3.55" fill="#b40426"/>
<circle cx="271.14" cy="479.48" r="3.55" fill="#b40426"/>
<circle cx="283.32" cy="479.48" r="3.55" fill="#445acc"/>
<circle cx="295.50" cy="479.48" r="3.55" fill="#3e51c5"/>
<circle cx="307.68" cy="479.48" r="3.55" fill="#445acc"/>
<circle cx="173.70" cy="491.62" r="3.55" fill="#88abfd"/>
<circle cx="185.88" cy="491.62" r="3.55" fill="#3e51c5"/>
<circle cx="198.06" cy="491.62" r="3.55" fill="#536edd"/>
<circle cx="210.24" cy="491.62" r="3.55" fill="#6485ec"/>
<circle cx="222.42" cy="491.62" r="3.55" fill="#7597f6"/>
<circle cx="234.60" cy="491.62" r="3.55" fill="#4961d2"/>
<circle cx="246.78" cy="491.62" r="3.55" fill="#445acc"/>
<circle cx="258.96" cy="491.62" r="3.55" fill="#b40426"/>
<circle cx="271.14" cy="491.62" r="3.55" fill="#b40426"/>
<circle cx="283.32" cy="491.62" r="3.55" fill="#b40426"/>
<circle cx="295.50" cy="491.62" r="3.55" fill="#445acc"/>
<circle cx="307.68" cy="491.62" r="3.55" fill="#6485ec"/>
<circle cx="173.70" cy="503.76" r="3.55" fill="#b6cefa"/>
<circle cx="185.88" cy="503.76" r="3.55" fill="#445acc"/>
<circle cx="198.06" cy="503.76" r="3.55" fill="#3e51c5"/>
<circle cx="210.24" cy="503.76" r="3.55" fill="#5d7ce6"/>
<circle cx="222.42" cy="503.76" r="3.55" fill="#6c8ff1"/>
<circle cx="234.60" cy="503.76" r="3.55" fill="#5d7ce6"/>
<circle cx="246.78" cy="503.76" r="3.55" fill="#4961d2"/>
<circle cx="258.96" cy="503.76" r="3.55" fill="#445acc"/>
<circle cx="271.14" cy="503.76" r="3.55" fill="#b40426"/>
<circle cx="283.32" cy="503.76" r="3.55" fill="#cf453c"/>
<circle cx="295.50" cy="503.76" r="3.55" fill="#b40426"/>
<circle cx="307.68" cy="503.76" r="3.55" fill="#b40426"/>
<circle cx="173.70" cy="515.90" r="3.55" fill="#b40426"/>
<circle cx="185.88" cy="515.90" r="3.55" fill="#d6dce4"/>
<circle cx="198.06" cy="515.90" r="3.55" fill="#3e51c5"/>
<circle cx="210.24" cy="515.90" r="3.55" fill="#6485ec"/>
<circle cx="222.42" cy="515.90" r="3.55" fill="#6c8ff1"/>
<circle cx="234.60" cy="515.90" r="3.55" fill="#6485ec"/>
<circle cx="246.78" cy="515.90" r="3.55" fill="#445acc"/>
<circle cx="258.96" cy="515.90" r="3.55" fill="#b40426"/>
<circle cx="271.14" cy="515.90" r="3.55" fill="#b40426"/>
<circle cx="283.32" cy="515.90" r="3.55" fill="#b40426"/>
<circle cx="295.50" cy="515.90" r="3.55" fill="#445acc"/>
<circle cx="307.68" cy="515.90" r="3.55" fill="#6485ec"/>
<circle cx="173.70" cy="528.04" r="3.55" fill="#3e51c5"/>
<circle cx="185.88" cy="528.04" r="3.55" fill="#3e51c5"/>
<circle cx="198.06" cy="528.04" r="3.55" fill="#6485ec"/>
<circle cx="210.24" cy="528.04" r="3.55" fill="#536edd"/>
<circle cx="222.42" cy="528.04" r="3.55" fill="#3e51c5"/>
<circle cx="234.60" cy="528.04" r="3.55" fill="#7b9ff9"/>
<circle cx="246.78" cy="528.04" r="3.55" fill="#d6dce4"/>
<circle cx="258.96" cy="528.04" r="3.55" fill="#dddcdc"/>
<circle cx="271.14" cy="528.04" r="3.55" fill="#b40426"/>
<circle cx="283.32" cy="528.04" r="3.55" fill="#445acc"/>
<circle cx="295.50" cy="528.04" r="3.55" fill="#b40426"/>
<circle cx="307.68" cy="528.04" r="3.55" fill="#b40426"/>
<circle cx="173.70" cy="540.18" r="3.55" fill="#3e51c5"/>
<circle cx="185.88" cy="540.18" r="3.55" fill="#6485ec"/>
<circle cx="198.06" cy="540.18" r="3.55" fill="#96b7ff"/>
<circle cx="210.24" cy="540.18" r="3.55" fill="#6485ec"/>
<circle cx="222.42" cy="540.18" r="3.55" fill="#4961d2"/>
<circle cx="234.60" cy="540.18" r="3.55" fill="#5d7ce6"/>
<circle cx="246.78" cy="540.18" r="3.55" fill="#536edd"/>
<circle cx="258.96" cy="540.18" r="3.55" fill="#3e51c5"/>
<circle cx="271.14" cy="540.18" r="3.55" fill="#3e51c5"/>
<circle cx="283.32" cy="540.18" r="3.55" fill="#4961d2"/>
<circle cx="295.50" cy="540.18" r="3.55" fill="#445acc"/>
<circle cx="307.68" cy="540.18" r="3.55" fill="#b40426"/>
<circle cx="173.70" cy="552.32" r="3.55" fill="#4961d2"/>
<circle cx="185.88" cy="552.32" r="3.55" fill="#7597f6"/>
<circle cx="198.06" cy="552.32" r="3.55" fill="#6485ec"/>
<circle cx="210.24" cy="552.32" r="3.55" fill="#5d7ce6"/>
<circle cx="222.42" cy="552.32" r="3.55" fill="#96b7ff"/>
<circle cx="234.60" cy="552.32" r="3.55" fill="#5d7ce6"/>
<circle cx="246.78" cy="552.32" r="3.55" fill="#536edd"/>
<circle cx="258.96" cy="552.32" r="3.55" fill="#3e51c5"/>
<circle cx="271.14" cy="552.32" r="3.55" fill="#445acc"/>
<circle cx="283.32" cy="552.32" r="3.55" fill="#445acc"/>
<circle cx="295.50" cy="552.32" r="3.55" fill="#5d7ce6"/>
<circle cx="307.68" cy="552.32" r="3.55" fill="#6485ec"/>
<circle cx="173.70" cy="564.46" r="3.55" fill="#6485ec"/>
<circle cx="185.88" cy="564.46" r="3.55" fill="#6485ec"/>
<circle cx="198.06" cy="564.46" r="3.55" fill="#3e51c5"/>
<circle cx="210.24" cy="564.46" r="3.55" fill="#5d7ce6"/>
<circle cx="222.42" cy="564.46" r="3.55" fill="#96b7ff"/>
<circle cx="234.60" cy="564.46" r="3.55" fill="#b40426"/>
<circle cx="246.78" cy="564.46" r="3.55" fill="#b40426"/>
<circle cx="258.96" cy="564.46" r="3.55" fill="#6c8ff1"/>
<circle cx="271.14" cy="564.46" r="3.55" fill="#445acc"/>
<circle cx="283.32" cy="564.46" r="3.55" fill="#445acc"/>
<circle cx="295.50" cy="564.46" r="3.55" fill="#3e51c5"/>
<circle cx="307.68" cy="564.46" r="3.55" fill="#445acc"/>
<circle cx="173.70" cy="576.60" r="3.55" fill="#445acc"/>
<circle cx="185.88" cy="576.60" r="3.55" fill="#5d7ce6"/>
<circle cx="198.06" cy="576.60" r="3.55" fill="#536edd"/>
<circle cx="210.24" cy="576.60" r="3.55" fill="#5d7ce6"/>
<circle cx="222.42" cy="576.60" r="3.55" fill="#6485ec"/>
<circle cx="234.60" cy="576.60" r="3.55" fill="#b40426"/>
<circle cx="246.78" cy="576.60" r="3.55" fill="#b40426"/>
<circle cx="258.96" cy="576.60" r="3.55" fill="#6c8ff1"/>
<circle cx="271.14" cy="576.60" r="3.55" fill="#445acc"/>
<circle cx="283.32" cy="576.60" r="3.55" fill="#536edd"/>
<circle cx="295.50" cy="576.60" r="3.55" fill="#b40426"/>
<circle cx="307.68" cy="576.60" r="3.55" fill="#445acc"/>
<circle cx="173.70" cy="588.74" r="3.55" fill="#6c8ff1"/>
<circle cx="185.88" cy="588.74" r="3.55" fill="#6c8ff1"/>
<circle cx="198.06" cy="588.74" r="3.55" fill="#6c8ff1"/>
<circle cx="210.24" cy="588.74" r="3.55" fill="#6485ec"/>
<circle cx="222.42" cy="588.74" r="3.55" fill="#3e51c5"/>
<circle cx="234.60" cy="588.74" r="3.55" fill="#445acc"/>
<circle cx="246.78" cy="588.74" r="3.55" fill="#b40426"/>
<circle cx="258.96" cy="588.74" r="3.55" fill="#b40426"/>
<circle cx="271.14" cy="588.74" r="3.55" fill="#6485ec"/>
<circle cx="283.32" cy="588.74" r="3.55" fill="#445acc"/>
<circle cx="295.50" cy="588.74" r="3.55" fill="#5d7ce6"/>
<circle cx="307.68" cy="588.74" r="3.55" fill="#6c8ff1"/>
<text x="240.69" y="617.30" font-size="12" font-family="Liberation Serif" class="c" fill="#000" word-spacing="1.50" text-anchor="middle">(h) t = 7.0</text>
<circle cx="343.10" cy="455.20" r="3.55" fill="#5d7ce6"/>
<circle cx="355.28" cy="455.20" r="3.55" fill="#5d7ce6"/>
<circle cx="367.46" cy="455.20" r="3.55" fill="#5d7ce6"/>
<circle cx="379.64" cy="455.20" r="3.55" fill="#4961d2"/>
<circle cx="391.82" cy="455.20" r="3.55" fill="#3e51c5"/>
<circle cx="404.00" cy="455.20" r="3.55" fill="#3e51c5"/>
<circle cx="416.18" cy="455.20" r="3.55" fill="#3e51c5"/>
<circle cx="428.36" cy="455.20" r="3.55" fill="#3e51c5"/>
<circle cx="440.54" cy="455.20" r="3.55" fill="#3e51c5"/>
<circle cx="452.72" cy="455.20" r="3.55" fill="#b40426"/>
<circle cx="464.90" cy="455.20" r="3.55" fill="#3e51c5"/>
<circle cx="477.08" cy="455.20" r="3.55" fill="#5d7ce6"/>
<circle cx="343.10" cy="467.34" r="3.55" fill="#3e51c5"/>
<circle cx="355.28" cy="467.34" r="3.55" fill="#3e51c5"/>
<circle cx="367.46" cy="467.34" r="3.55" fill="#445acc"/>
<circle cx="379.64" cy="467.34" r="3.55" fill="#4961d2"/>
<circle cx="391.82" cy="467.34" r="3.55" fill="#445acc"/>
<circle cx="404.00" cy="467.34" r="3.55" fill="#3e51c5"/>
<circle cx="416.18" cy="467.34" r="3.55" fill="#5d7ce6"/>
<circle cx="428.36" cy="467.34" r="3.55" fill="#b40426"/>
<circle cx="440.54" cy="467.34" r="3.55" fill="#b40426"/>
<circle cx="452.72" cy="467.34" r="3.55" fill="#445acc"/>
<circle cx="464.90" cy="467.34" r="3.55" fill="#5d7ce6"/>
<circle cx="477.08" cy="467.34" r="3.55" fill="#445acc"/>
<circle cx="343.10" cy="479.48" r="3.55" fill="#3e51c5"/>
<circle cx="355.28" cy="479.48" r="3.55" fill="#536edd"/>
<circle cx="367.46" cy="479.48" r="3.55" fill="#536edd"/>
<circle cx="379.64" cy="479.48" r="3.55" fill="#536edd"/>
<circle cx="391.82" cy="479.48" r="3.55" fill="#5d7ce6"/>
<circle cx="404.00" cy="479.48" r="3.55" fill="#d7dce3"/>
<circle cx="416.18" cy="479.48" r="3.55" fill="#b40426"/>
<circle cx="428.36" cy="479.48" r="3.55" fill="#b40426"/>
<circle cx="440.54" cy="479.48" r="3.55" fill="#b40426"/>
<circle cx="452.72" cy="479.48" r="3.55" fill="#b40426"/>
<circle cx="464.90" cy="479.48" r="3.55" fill="#445acc"/>
<circle cx="477.08" cy="479.48" r="3.55" fill="#4961d2"/>
<circle cx="343.10" cy="491.62" r="3.55" fill="#3e51c5"/>
<circle cx="355.28" cy="491.62" r="3.55" fill="#3e51c5"/>
<circle cx="367.46" cy="491.62" r="3.55" fill="#4961d2"/>
<circle cx="379.64" cy="491.62" r="3.55" fill="#4961d2"/>
<circle cx="391.82" cy="491.62" r="3.55" fill="#5d7ce6"/>
<circle cx="404.00" cy="491.62" r="3.55" fill="#445acc"/>
<circle cx="416.18" cy="491.62" r="3.55" fill="#3e51c5"/>
<circle cx="428.36" cy="491.62" r="3.55" fill="#b40426"/>
<circle cx="440.54" cy="491.62" r="3.55" fill="#b40426"/>
<circle cx="452.72" cy="491.62" r="3.55" fill="#b40426"/>
<circle cx="464.90" cy="491.62" r="3.55" fill="#b40426"/>
<circle cx="477.08" cy="491.62" r="3.55" fill="#4961d2"/>
<circle cx="343.10" cy="503.76" r="3.55" fill="#3e51c5"/>
<circle cx="355.28" cy="503.76" r="3.55" fill="#3e51c5"/>
<circle cx="367.46" cy="503.76" r="3.55" fill="#3e51c5"/>
<circle cx="379.64" cy="503.76" r="3.55" fill="#536edd"/>
<circle cx="391.82" cy="503.76" r="3.55" fill="#5d7ce6"/>
<circle cx="404.00" cy="503.76" r="3.55" fill="#3e51c5"/>
<circle cx="416.18" cy="503.76" r="3.55" fill="#4961d2"/>
<circle cx="428.36" cy="503.76" r="3.55" fill="#3e51c5"/>
<circle cx="440.54" cy="503.76" r="3.55" fill="#b40426"/>
<circle cx="452.72" cy="503.76" r="3.55" fill="#b40426"/>
<circle cx="464.90" cy="503.76" r="3.55" fill="#b40426"/>
<circle cx="477.08" cy="503.76" r="3.55" fill="#b40426"/>
<circle cx="343.10" cy="515.90" r="3.55" fill="#3e51c5"/>
<circle cx="355.28" cy="515.90" r="3.55" fill="#4961d2"/>
<circle cx="367.46" cy="515.90" r="3.55" fill="#3e51c5"/>
<circle cx="379.64" cy="515.90" r="3.55" fill="#536edd"/>
<circle cx="391.82" cy="515.90" r="3.55" fill="#5d7ce6"/>
<circle cx="404.00" cy="515.90" r="3.55" fill="#3e51c5"/>
<circle cx="416.18" cy="515.90" r="3.55" fill="#b40426"/>
<circle cx="428.36" cy="515.90" r="3.55" fill="#b40426"/>
<circle cx="440.54" cy="515.90" r="3.55" fill="#b40426"/>
<circle cx="452.72" cy="515.90" r="3.55" fill="#b40426"/>
<circle cx="464.90" cy="515.90" r="3.55" fill="#3e51c5"/>
<circle cx="477.08" cy="515.90" r="3.55" fill="#b40426"/>
<circle cx="343.10" cy="528.04" r="3.55" fill="#3e51c5"/>
<circle cx="355.28" cy="528.04" r="3.55" fill="#3e51c5"/>
<circle cx="367.46" cy="528.04" r="3.55" fill="#4961d2"/>
<circle cx="379.64" cy="528.04" r="3.55" fill="#4961d2"/>
<circle cx="391.82" cy="528.04" r="3.55" fill="#3e51c5"/>
<circle cx="404.00" cy="528.04" r="3.55" fill="#3e51c5"/>
<circle cx="416.18" cy="528.04" r="3.55" fill="#445acc"/>
<circle cx="428.36" cy="528.04" r="3.55" fill="#445acc"/>
<circle cx="440.54" cy="528.04" r="3.55" fill="#b40426"/>
<circle cx="452.72" cy="528.04" r="3.55" fill="#b40426"/>
<circle cx="464.90" cy="528.04" r="3.55" fill="#b40426"/>
<circle cx="477.08" cy="528.04" r="3.55" fill="#b40426"/>
<circle cx="343.10" cy="540.18" r="3.55" fill="#3e51c5"/>
<circle cx="355.28" cy="540.18" r="3.55" fill="#4961d2"/>
<circle cx="367.46" cy="540.18" r="3.55" fill="#5d7ce6"/>
<circle cx="379.64" cy="540.18" r="3.55" fill="#4961d2"/>
<circle cx="391.82" cy="540.18" r="3.55" fill="#445acc"/>
<circle cx="404.00" cy="540.18" r="3.55" fill="#3e51c5"/>
<circle cx="416.18" cy="540.18" r="3.55" fill="#3e51c5"/>
<circle cx="428.36" cy="540.18" r="3.55" fill="#445acc"/>
<circle cx="440.54" cy="540.18" r="3.55" fill="#445acc"/>
<circle cx="452.72" cy="540.18" r="3.55" fill="#b40426"/>
<circle cx="464.90" cy="540.18" r="3.55" fill="#b40426"/>
<circle cx="477.08" cy="540.18" r="3.55" fill="#b40426"/>
<circle cx="343.10" cy="552.32" r="3.55" fill="#3e51c5"/>
<circle cx="355.28" cy="552.32" r="3.55" fill="#4961d2"/>
<circle cx="367.46" cy="552.32" r="3.55" fill="#4961d2"/>
<circle cx="379.64" cy="552.32" r="3.55" fill="#4961d2"/>
<circle cx="391.82" cy="552.32" r="3.55" fill="#4961d2"/>
<circle cx="404.00" cy="552.32" r="3.55" fill="#3e51c5"/>
<circle cx="416.18" cy="552.32" r="3.55" fill="#445acc"/>
<circle cx="428.36" cy="552.32" r="3.55" fill="#3e51c5"/>
<circle cx="440.54" cy="552.32" r="3.55" fill="#b40426"/>
<circle cx="452.72" cy="552.32" r="3.55" fill="#445acc"/>
<circle cx="464.90" cy="552.32" r="3.55" fill="#3e51c5"/>
<circle cx="477.08" cy="552.32" r="3.55" fill="#445acc"/>
<circle cx="343.10" cy="564.46" r="3.55" fill="#536edd"/>
<circle cx="355.28" cy="564.46" r="3.55" fill="#4961d2"/>
<circle cx="367.46" cy="564.46" r="3.55" fill="#3e51c5"/>
<circle cx="379.64" cy="564.46" r="3.55" fill="#3e51c5"/>
<circle cx="391.82" cy="564.46" r="3.55" fill="#b40426"/>
<circle cx="404.00" cy="564.46" r="3.55" fill="#b40426"/>
<circle cx="416.18" cy="564.46" r="3.55" fill="#b40426"/>
<circle cx="428.36" cy="564.46" r="3.55" fill="#445acc"/>
<circle cx="440.54" cy="564.46" r="3.55" fill="#6485ec"/>
<circle cx="452.72" cy="564.46" r="3.55" fill="#445acc"/>
<circle cx="464.90" cy="564.46" r="3.55" fill="#445acc"/>
<circle cx="477.08" cy="564.46" r="3.55" fill="#445acc"/>
<circle cx="343.10" cy="576.60" r="3.55" fill="#445acc"/>
<circle cx="355.28" cy="576.60" r="3.55" fill="#4961d2"/>
<circle cx="367.46" cy="576.60" r="3.55" fill="#4961d2"/>
<circle cx="379.64" cy="576.60" r="3.55" fill="#4961d2"/>
<circle cx="391.82" cy="576.60" r="3.55" fill="#445acc"/>
<circle cx="404.00" cy="576.60" r="3.55" fill="#b40426"/>
<circle cx="416.18" cy="576.60" r="3.55" fill="#b40426"/>
<circle cx="428.36" cy="576.60" r="3.55" fill="#445acc"/>
<circle cx="440.54" cy="576.60" r="3.55" fill="#b40426"/>
<circle cx="452.72" cy="576.60" r="3.55" fill="#b40426"/>
<circle cx="464.90" cy="576.60" r="3.55" fill="#b40426"/>
<circle cx="477.08" cy="576.60" r="3.55" fill="#445acc"/>
<circle cx="343.10" cy="588.74" r="3.55" fill="#536edd"/>
<circle cx="355.28" cy="588.74" r="3.55" fill="#536edd"/>
<circle cx="367.46" cy="588.74" r="3.55" fill="#536edd"/>
<circle cx="379.64" cy="588.74" r="3.55" fill="#4961d2"/>
<circle cx="391.82" cy="588.74" r="3.55" fill="#445acc"/>
<circle cx="404.00" cy="588.74" r="3.55" fill="#b40426"/>
<circle cx="416.18" cy="588.74" r="3.55" fill="#b40426"/>
<circle cx="428.36" cy="588.74" r="3.55" fill="#b40426"/>
<circle cx="440.54" cy="588.74" r="3.55" fill="#445acc"/>
<circle cx="452.72" cy="588.74" r="3.55" fill="#b40426"/>
<circle cx="464.90" cy="588.74" r="3.55" fill="#445acc"/>
<circle cx="477.08" cy="588.74" r="3.55" fill="#5d7ce6"/>
<text x="410.09" y="617.30" font-size="12" font-family="Liberation Serif" class="c" fill="#000" word-spacing="1.50" text-anchor="middle">(i) t = 13.9</text>
<circle cx="512.50" cy="455.20" r="3.55" fill="#4961d2"/>
<circle cx="524.68" cy="455.20" r="3.55" fill="#4961d2"/>
<circle cx="536.86" cy="455.20" r="3.55" fill="#4961d2"/>
<circle cx="549.04" cy="455.20" r="3.55" fill="#445acc"/>
<circle cx="561.22" cy="455.20" r="3.55" fill="#b40426"/>
<circle cx="573.40" cy="455.20" r="3.55" fill="#445acc"/>
<circle cx="585.58" cy="455.20" r="3.55" fill="#3e51c5"/>
<circle cx="597.76" cy="455.20" r="3.55" fill="#b40426"/>
<circle cx="609.94" cy="455.20" r="3.55" fill="#b40426"/>
<circle cx="622.12" cy="455.20" r="3.55" fill="#b40426"/>
<circle cx="634.30" cy="455.20" r="3.55" fill="#b40426"/>
<circle cx="646.48" cy="455.20" r="3.55" fill="#b40426"/>
<circle cx="512.50" cy="467.34" r="3.55" fill="#3e51c5"/>
<circle cx="524.68" cy="467.34" r="3.55" fill="#3e51c5"/>
<circle cx="536.86" cy="467.34" r="3.55" fill="#3e51c5"/>
<circle cx="549.04" cy="467.34" r="3.55" fill="#445acc"/>
<circle cx="561.22" cy="467.34" r="3.55" fill="#3e51c5"/>
<circle cx="573.40" cy="467.34" r="3.55" fill="#3e51c5"/>
<circle cx="585.58" cy="467.34" r="3.55" fill="#3e51c5"/>
<circle cx="597.76" cy="467.34" r="3.55" fill="#b40426"/>
<circle cx="609.94" cy="467.34" r="3.55" fill="#b40426"/>
<circle cx="622.12" cy="467.34" r="3.55" fill="#445acc"/>
<circle cx="634.30" cy="467.34" r="3.55" fill="#b40426"/>
<circle cx="646.48" cy="467.34" r="3.55" fill="#4961d2"/>
<circle cx="512.50" cy="479.48" r="3.55" fill="#b40426"/>
<circle cx="524.68" cy="479.48" r="3.55" fill="#4961d2"/>
<circle cx="536.86" cy="479.48" r="3.55" fill="#4961d2"/>
<circle cx="549.04" cy="479.48" r="3.55" fill="#4961d2"/>
<circle cx="561.22" cy="479.48" r="3.55" fill="#445acc"/>
<circle cx="573.40" cy="479.48" r="3.55" fill="#5d7ce6"/>
<circle cx="585.58" cy="479.48" r="3.55" fill="#b40426"/>
<circle cx="597.76" cy="479.48" r="3.55" fill="#b40426"/>
<circle cx="609.94" cy="479.48" r="3.55" fill="#b40426"/>
<circle cx="622.12" cy="479.48" r="3.55" fill="#b40426"/>
<circle cx="634.30" cy="479.48" r="3.55" fill="#445acc"/>
<circle cx="646.48" cy="479.48" r="3.55" fill="#b40426"/>
<circle cx="512.50" cy="491.62" r="3.55" fill="#445acc"/>
<circle cx="524.68" cy="491.62" r="3.55" fill="#b40426"/>
<circle cx="536.86" cy="491.62" r="3.55" fill="#445acc"/>
<circle cx="549.04" cy="491.62" r="3.55" fill="#445acc"/>
<circle cx="561.22" cy="491.62" r="3.55" fill="#4961d2"/>
<circle cx="573.40" cy="491.62" r="3.55" fill="#3e51c5"/>
<circle cx="585.58" cy="491.62" r="3.55" fill="#445acc"/>
<circle cx="597.76" cy="491.62" r="3.55" fill="#b40426"/>
<circle cx="609.94" cy="491.62" r="3.55" fill="#b40426"/>
<circle cx="622.12" cy="491.62" r="3.55" fill="#b40426"/>
<circle cx="634.30" cy="491.62" r="3.55" fill="#b40426"/>
<circle cx="646.48" cy="491.62" r="3.55" fill="#b40426"/>
<circle cx="512.50" cy="503.76" r="3.55" fill="#b40426"/>
<circle cx="524.68" cy="503.76" r="3.55" fill="#3e51c5"/>
<circle cx="536.86" cy="503.76" r="3.55" fill="#3e51c5"/>
<circle cx="549.04" cy="503.76" r="3.55" fill="#4961d2"/>
<circle cx="561.22" cy="503.76" r="3.55" fill="#3e51c5"/>
<circle cx="573.40" cy="503.76" r="3.55" fill="#b40426"/>
<circle cx="585.58" cy="503.76" r="3.55" fill="#445acc"/>
<circle cx="597.76" cy="503.76" r="3.55" fill="#4961d2"/>
<circle cx="609.94" cy="503.76" r="3.55" fill="#b40426"/>
<circle cx="622.12" cy="503.76" r="3.55" fill="#b40426"/>
<circle cx="634.30" cy="503.76" r="3.55" fill="#b40426"/>
<circle cx="646.48" cy="503.76" r="3.55" fill="#b40426"/>
<circle cx="512.50" cy="515.90" r="3.55" fill="#445acc"/>
<circle cx="524.68" cy="515.90" r="3.55" fill="#445acc"/>
<circle cx="536.86" cy="515.90" r="3.55" fill="#3e51c5"/>
<circle cx="549.04" cy="515.90" r="3.55" fill="#4961d2"/>
<circle cx="561.22" cy="515.90" r="3.55" fill="#3e51c5"/>
<circle cx="573.40" cy="515.90" r="3.55" fill="#445acc"/>
<circle cx="585.58" cy="515.90" r="3.55" fill="#b40426"/>
<circle cx="597.76" cy="515.90" r="3.55" fill="#b40426"/>
<circle cx="609.94" cy="515.90" r="3.55" fill="#b40426"/>
<circle cx="622.12" cy="515.90" r="3.55" fill="#b40426"/>
<circle cx="634.30" cy="515.90" r="3.55" fill="#bd1f2d"/>
<circle cx="646.48" cy="515.90" r="3.55" fill="#b40426"/>
<circle cx="512.50" cy="528.04" r="3.55" fill="#3e51c5"/>
<circle cx="524.68" cy="528.04" r="3.55" fill="#445acc"/>
<circle cx="536.86" cy="528.04" r="3.55" fill="#445acc"/>
<circle cx="549.04" cy="528.04" r="3.55" fill="#3e51c5"/>
<circle cx="561.22" cy="528.04" r="3.55" fill="#445acc"/>
<circle cx="573.40" cy="528.04" r="3.55" fill="#445acc"/>
<circle cx="585.58" cy="528.04" r="3.55" fill="#b40426"/>
<circle cx="597.76" cy="528.04" r="3.55" fill="#b40426"/>
<circle cx="609.94" cy="528.04" r="3.55" fill="#b40426"/>
<circle cx="622.12" cy="528.04" r="3.55" fill="#b40426"/>
<circle cx="634.30" cy="528.04" r="3.55" fill="#b40426"/>
<circle cx="646.48" cy="528.04" r="3.55" fill="#b40426"/>
<circle cx="512.50" cy="540.18" r="3.55" fill="#3e51c5"/>
<circle cx="524.68" cy="540.18" r="3.55" fill="#445acc"/>
<circle cx="536.86" cy="540.18" r="3.55" fill="#4961d2"/>
<circle cx="549.04" cy="540.18" r="3.55" fill="#3e51c5"/>
<circle cx="561.22" cy="540.18" r="3.55" fill="#b40426"/>
<circle cx="573.40" cy="540.18" r="3.55" fill="#b40426"/>
<circle cx="585.58" cy="540.18" r="3.55" fill="#b40426"/>
<circle cx="597.76" cy="540.18" r="3.55" fill="#b40426"/>
<circle cx="609.94" cy="540.18" r="3.55" fill="#b40426"/>
<circle cx="622.12" cy="540.18" r="3.55" fill="#b40426"/>
<circle cx="634.30" cy="540.18" r="3.55" fill="#b40426"/>
<circle cx="646.48" cy="540.18" r="3.55" fill="#b40426"/>
<circle cx="512.50" cy="552.32" r="3.55" fill="#3e51c5"/>
<circle cx="524.68" cy="552.32" r="3.55" fill="#4961d2"/>
<circle cx="536.86" cy="552.32" r="3.55" fill="#4961d2"/>
<circle cx="549.04" cy="552.32" r="3.55" fill="#b40426"/>
<circle cx="561.22" cy="552.32" r="3.55" fill="#b40426"/>
<circle cx="573.40" cy="552.32" r="3.55" fill="#445acc"/>
<circle cx="585.58" cy="552.32" r="3.55" fill="#b40426"/>
<circle cx="597.76" cy="552.32" r="3.55" fill="#b40426"/>
<circle cx="609.94" cy="552.32" r="3.55" fill="#b40426"/>
<circle cx="622.12" cy="552.32" r="3.55" fill="#445acc"/>
<circle cx="634.30" cy="552.32" r="3.55" fill="#445acc"/>
<circle cx="646.48" cy="552.32" r="3.55" fill="#b40426"/>
<circle cx="512.50" cy="564.46" r="3.55" fill="#3e51c5"/>
<circle cx="524.68" cy="564.46" r="3.55" fill="#445acc"/>
<circle cx="536.86" cy="564.46" r="3.55" fill="#3e51c5"/>
<circle cx="549.04" cy="564.46" r="3.55" fill="#445acc"/>
<circle cx="561.22" cy="564.46" r="3.55" fill="#445acc"/>
<circle cx="573.40" cy="564.46" r="3.55" fill="#b40426"/>
<circle cx="585.58" cy="564.46" r="3.55" fill="#b40426"/>
<circle cx="597.76" cy="564.46" r="3.55" fill="#b40426"/>
<circle cx="609.94" cy="564.46" r="3.55" fill="#445acc"/>
<circle cx="622.12" cy="564.46" r="3.55" fill="#445acc"/>
<circle cx="634.30" cy="564.46" r="3.55" fill="#445acc"/>
<circle cx="646.48" cy="564.46" r="3.55" fill="#445acc"/>
<circle cx="512.50" cy="576.60" r="3.55" fill="#445acc"/>
<circle cx="524.68" cy="576.60" r="3.55" fill="#4961d2"/>
<circle cx="536.86" cy="576.60" r="3.55" fill="#445acc"/>
<circle cx="549.04" cy="576.60" r="3.55" fill="#445acc"/>
<circle cx="561.22" cy="576.60" r="3.55" fill="#445acc"/>
<circle cx="573.40" cy="576.60" r="3.55" fill="#b40426"/>
<circle cx="585.58" cy="576.60" r="3.55" fill="#b40426"/>
<circle cx="597.76" cy="576.60" r="3.55" fill="#d65244"/>
<circle cx="609.94" cy="576.60" r="3.55" fill="#b40426"/>
<circle cx="622.12" cy="576.60" r="3.55" fill="#b40426"/>
<circle cx="634.30" cy="576.60" r="3.55" fill="#b40426"/>
<circle cx="646.48" cy="576.60" r="3.55" fill="#445acc"/>
<circle cx="512.50" cy="588.74" r="3.55" fill="#445acc"/>
<circle cx="524.68" cy="588.74" r="3.55" fill="#4961d2"/>
<circle cx="536.86" cy="588.74" r="3.55" fill="#4961d2"/>
<circle cx="549.04" cy="588.74" r="3.55" fill="#445acc"/>
<circle cx="561.22" cy="588.74" r="3.55" fill="#3e51c5"/>
<circle cx="573.40" cy="588.74" r="3.55" fill="#b40426"/>
<circle cx="585.58" cy="588.74" r="3.55" fill="#b40426"/>
<circle cx="597.76" cy="588.74" r="3.55" fill="#b40426"/>
<circle cx="609.94" cy="588.74" r="3.55" fill="#b40426"/>
<circle cx="622.12" cy="588.74" r="3.55" fill="#b40426"/>
<circle cx="634.30" cy="588.74" r="3.55" fill="#b40426"/>
<circle cx="646.48" cy="588.74" r="3.55" fill="#b40426"/>
<text x="579.49" y="617.30" font-size="12" font-family="Liberation Serif" class="c" fill="#000" word-spacing="1.50" text-anchor="middle">(j) t = 27.8</text>
<defs><linearGradient id="cw" x1="0" x2="1" y1="0" y2="0"><stop offset="0.000" stop-color="#3b4cc0"/><stop offset="0.025" stop-color="#4257c9"/><stop offset="0.050" stop-color="#4961d2"/><stop offset="0.075" stop-color="#516ddb"/><stop offset="0.100" stop-color="#5977e3"/><stop offset="0.125" stop-color="#6282ea"/><stop offset="0.150" stop-color="#6a8bef"/><stop offset="0.175" stop-color="#7295f4"/><stop offset="0.200" stop-color="#7b9ff9"/><stop offset="0.225" stop-color="#84a7fc"/><stop offset="0.250" stop-color="#8db0fe"/><stop offset="0.275" stop-color="#96b7ff"/><stop offset="0.300" stop-color="#9ebeff"/><stop offset="0.325" stop-color="#a7c5fe"/><stop offset="0.350" stop-color="#afcafc"/><stop offset="0.375" stop-color="#b9d0f9"/><stop offset="0.400" stop-color="#c0d4f5"/><stop offset="0.425" stop-color="#c7d7f0"/><stop offset="0.450" stop-color="#cfdaea"/><stop offset="0.475" stop-color="#d6dce4"/><stop offset="0.500" stop-color="#dddcdc"/><stop offset="0.525" stop-color="#e3d9d3"/><stop offset="0.550" stop-color="#e9d5cb"/><stop offset="0.575" stop-color="#eed0c0"/><stop offset="0.600" stop-color="#f2cbb7"/><stop offset="0.625" stop-color="#f5c4ac"/><stop offset="0.650" stop-color="#f6bda2"/><stop offset="0.675" stop-color="#f7b599"/><stop offset="0.700" stop-color="#f7ac8e"/><stop offset="0.725" stop-color="#f6a385"/><stop offset="0.750" stop-color="#f4987a"/><stop offset="0.775" stop-color="#f18f71"/><stop offset="0.800" stop-color="#ee8468"/><stop offset="0.825" stop-color="#e9785d"/><stop offset="0.850" stop-color="#e36c55"/><stop offset="0.875" stop-color="#dd5f4b"/><stop offset="0.900" stop-color="#d65244"/><stop offset="0.925" stop-color="#cf453c"/><stop offset="0.950" stop-color="#c53334"/><stop offset="0.975" stop-color="#bd1f2d"/><stop offset="1.000" stop-color="#b40426"/></linearGradient></defs>
<rect x="258.10" y="637.90" width="142.60" height="17.90" fill="url(#cw)"/>
<path d="M258.50 655.80 v5.70 M272.68 655.80 v3.00 M286.86 655.80 v3.00 M301.04 655.80 v3.00 M315.22 655.80 v3.00 M329.40 655.80 v5.70 M343.58 655.80 v3.00 M357.76 655.80 v3.00 M371.94 655.80 v3.00 M386.12 655.80 v3.00 M400.30 655.80 v5.70" stroke="#3a3a3a" stroke-width="0.9"/>
<path d="M247.7 671.3 h7.1" stroke="#333" stroke-width="0.75"/>
<text x="258.75" y="674.0" font-size="12" font-family="Liberation Serif" class="c" fill="#000" text-anchor="middle">1</text>
<text x="401.05" y="674.0" font-size="12" font-family="Liberation Serif" class="c" fill="#000" text-anchor="middle">1</text>
</svg>
</body></html>
